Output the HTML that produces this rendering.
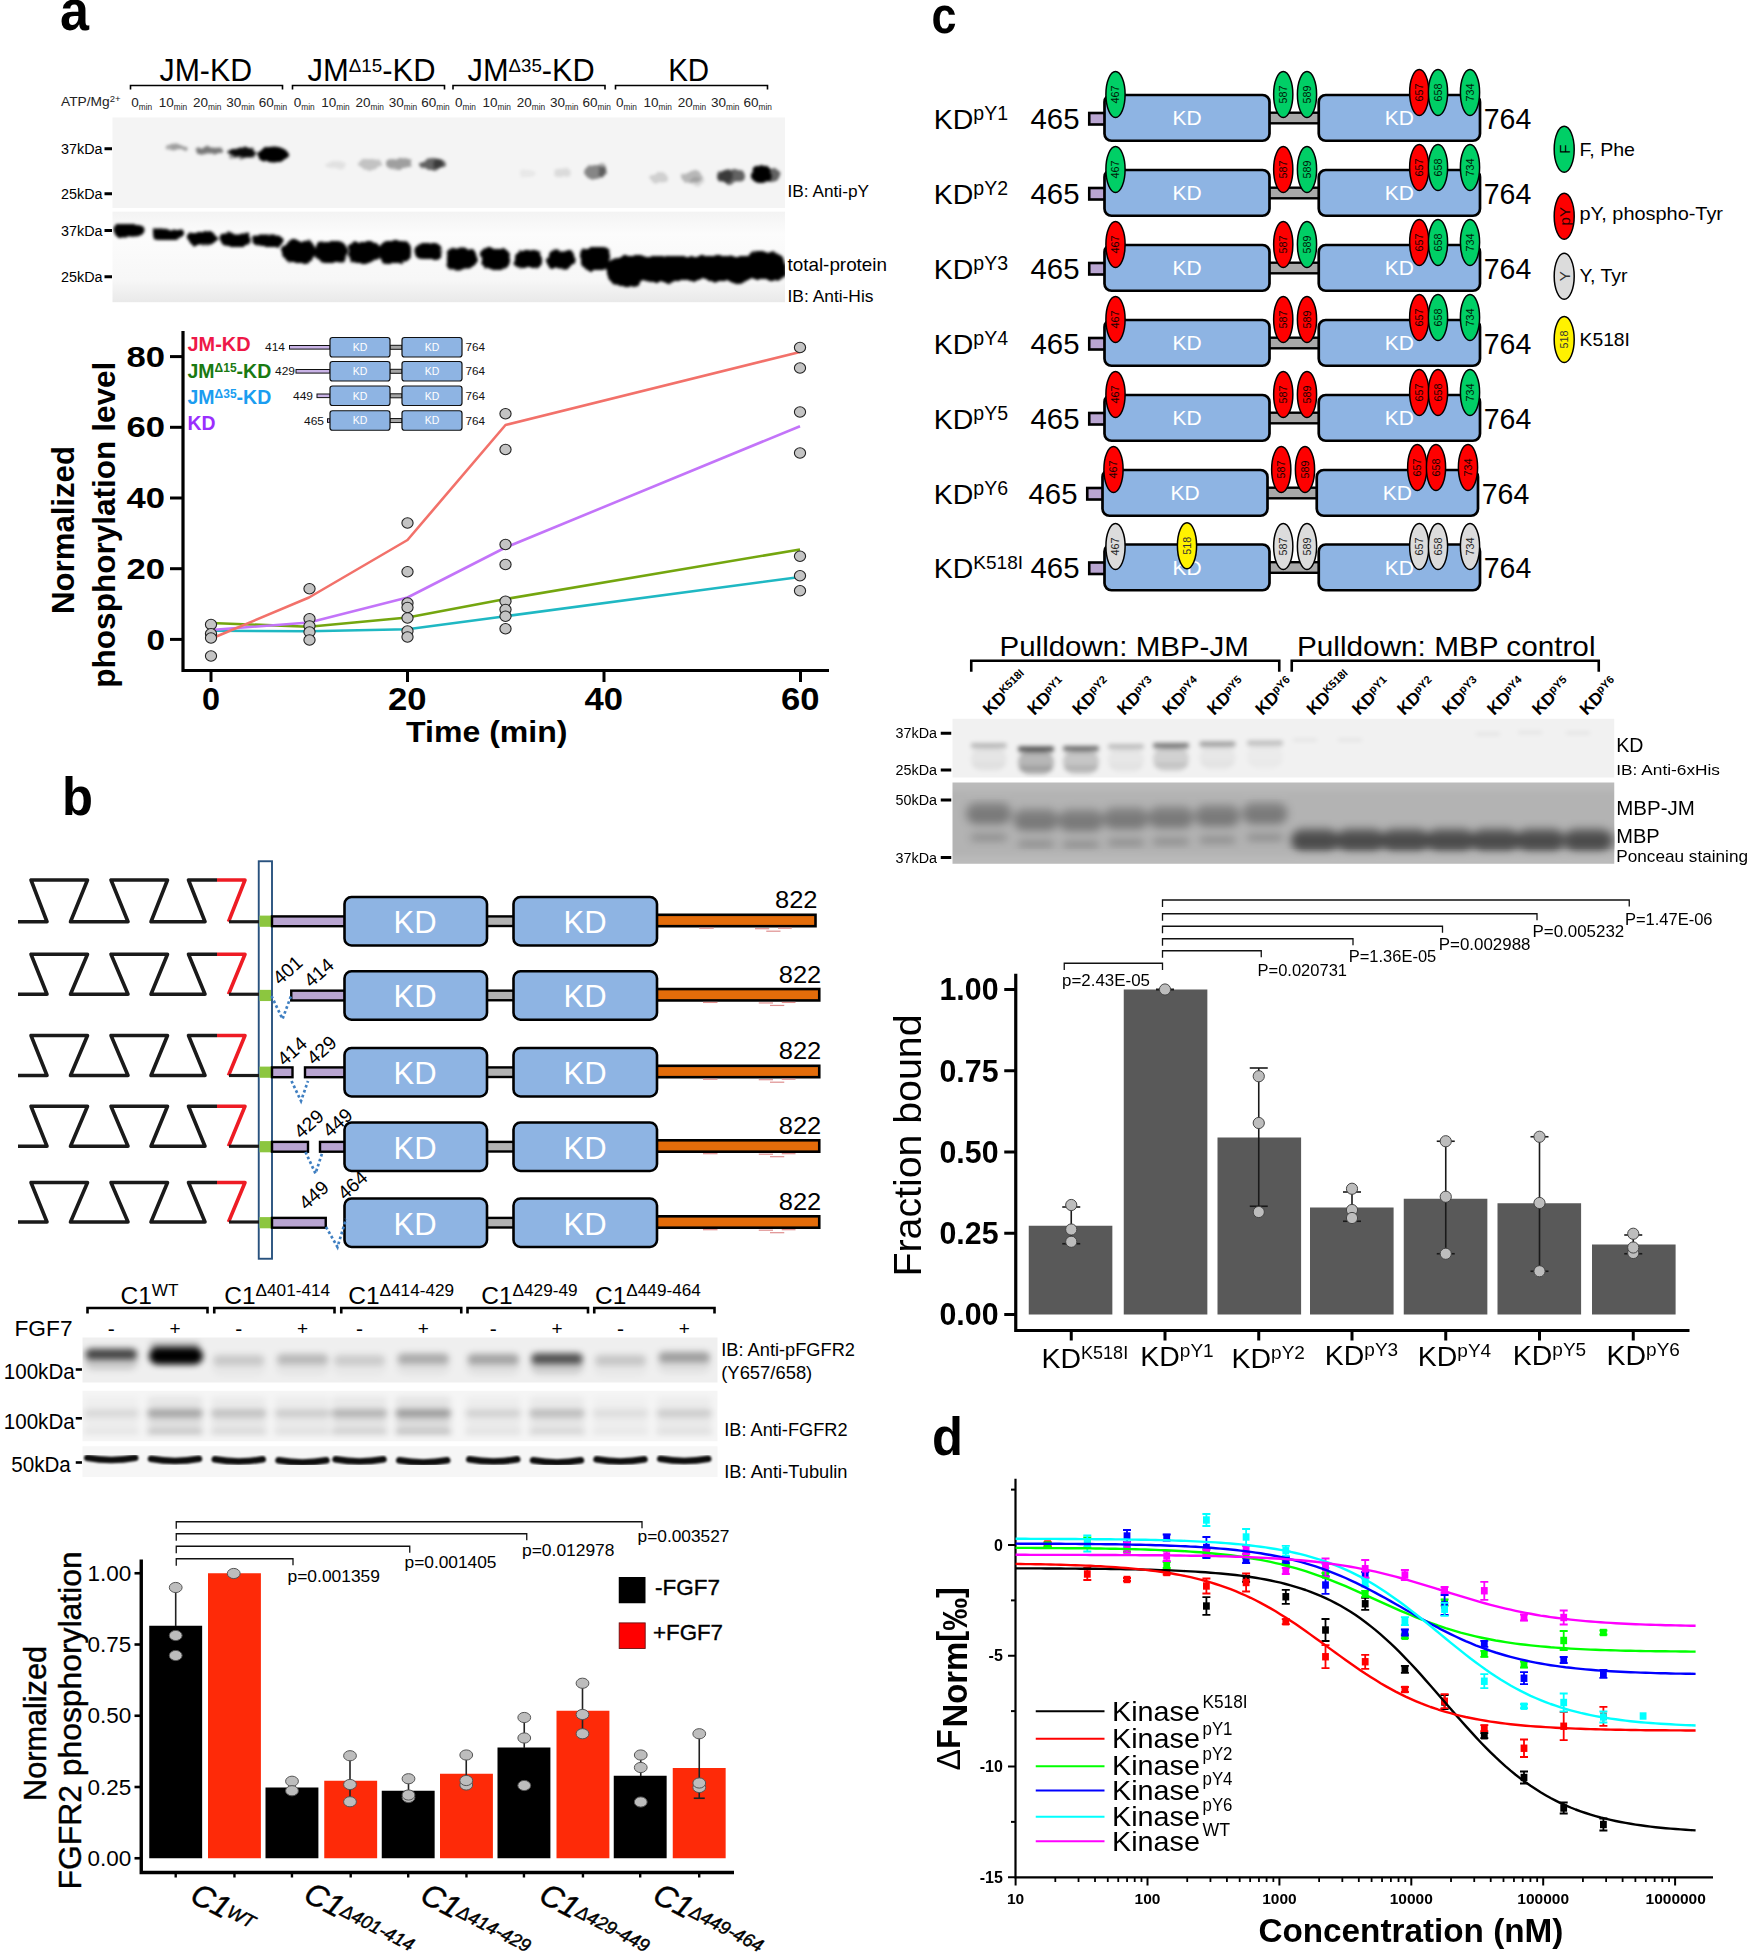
<!DOCTYPE html>
<html><head><meta charset="utf-8"><title>Figure</title>
<style>html,body{margin:0;padding:0;background:#fff}svg{display:block}text{font-family:"Liberation Sans",sans-serif}</style></head>
<body>
<svg width="1750" height="1955" viewBox="0 0 1750 1955" font-family="'Liberation Sans', sans-serif" fill="#000">
<defs>
<filter id="rough" x="-10%" y="-40%" width="120%" height="180%"><feTurbulence type="fractalNoise" baseFrequency="0.09" numOctaves="2" seed="7" result="n"/><feDisplacementMap in="SourceGraphic" in2="n" scale="7" xChannelSelector="R" yChannelSelector="G" result="d"/><feGaussianBlur in="d" stdDeviation="1.6"/></filter>
<filter id="rough2" x="-10%" y="-40%" width="120%" height="180%"><feTurbulence type="fractalNoise" baseFrequency="0.12" numOctaves="2" seed="3" result="n"/><feDisplacementMap in="SourceGraphic" in2="n" scale="6" xChannelSelector="R" yChannelSelector="G" result="d"/><feGaussianBlur in="d" stdDeviation="1.8"/></filter>
<filter id="b15" x="-20%" y="-50%" width="140%" height="200%"><feGaussianBlur stdDeviation="1.3"/></filter>
<filter id="b2" x="-20%" y="-50%" width="140%" height="200%"><feGaussianBlur stdDeviation="2"/></filter>
<filter id="b4" x="-20%" y="-60%" width="140%" height="220%"><feGaussianBlur stdDeviation="4"/></filter>
<filter id="b3" x="-20%" y="-50%" width="140%" height="200%"><feGaussianBlur stdDeviation="3"/></filter>
<linearGradient id="ga2" x1="0" y1="0" x2="0" y2="1"><stop offset="0" stop-color="#f3f3f3"/><stop offset="0.25" stop-color="#fcfcfc"/><stop offset="0.75" stop-color="#f7f7f7"/><stop offset="1" stop-color="#e9e9e9"/></linearGradient>
<clipPath id="ca2"><rect x="112.5" y="211.7" width="672.5" height="90.5"/></clipPath>
<clipPath id="cb1"><rect x="82.5" y="1337.5" width="635" height="45"/></clipPath>
<clipPath id="cb2"><rect x="82.5" y="1390.75" width="635" height="50.5"/></clipPath>
<clipPath id="cb3"><rect x="82.5" y="1446.25" width="635" height="30.75"/></clipPath>
<clipPath id="cc1"><rect x="952.5" y="718.75" width="661.75" height="58.75"/></clipPath>
<clipPath id="cc2"><rect x="952.5" y="782.5" width="661.75" height="81.25"/></clipPath>
</defs>
<rect width="1750" height="1955" fill="#fff"/>
<g id="panel-a">
<text x="60.00" y="30.00" font-size="58" font-weight="bold" textLength="29.00" lengthAdjust="spacingAndGlyphs">a</text>
<path d="M130.50 89.50V85.50H282.50V89.50" stroke="#000" stroke-width="1.6" fill="none" />
<path d="M292.50 89.50V85.50H444.50V89.50" stroke="#000" stroke-width="1.6" fill="none" />
<path d="M453.00 89.50V85.50H605.00V89.50" stroke="#000" stroke-width="1.6" fill="none" />
<path d="M615.50 89.50V85.50H767.50V89.50" stroke="#000" stroke-width="1.6" fill="none" />
<text x="159.50" y="80.50" font-size="30.5" textLength="92.50" lengthAdjust="spacingAndGlyphs">JM-KD</text>
<text x="307.50" y="80.50" font-size="30.5" textLength="128.00" lengthAdjust="spacingAndGlyphs">JM<tspan font-size="18.5" dy="-9">Δ15</tspan><tspan dy="9">-KD</tspan></text>
<text x="467.60" y="80.50" font-size="30.5" textLength="127.20" lengthAdjust="spacingAndGlyphs">JM<tspan font-size="18.5" dy="-9">Δ35</tspan><tspan dy="9">-KD</tspan></text>
<text x="668.20" y="80.50" font-size="30.5" textLength="41.00" lengthAdjust="spacingAndGlyphs">KD</text>
<text x="61.00" y="106.00" font-size="13" fill="#222" textLength="59.50" lengthAdjust="spacingAndGlyphs">ATP/Mg<tspan font-size="9" dy="-4.5">2+</tspan></text>
<text x="131.25" y="106.50" font-size="13.5" fill="#222">0<tspan font-size="8.3" dy="3">min</tspan></text>
<text x="158.75" y="106.50" font-size="13.5" fill="#222">10<tspan font-size="8.3" dy="3">min</tspan></text>
<text x="193.00" y="106.50" font-size="13.5" fill="#222">20<tspan font-size="8.3" dy="3">min</tspan></text>
<text x="226.25" y="106.50" font-size="13.5" fill="#222">30<tspan font-size="8.3" dy="3">min</tspan></text>
<text x="258.75" y="106.50" font-size="13.5" fill="#222">60<tspan font-size="8.3" dy="3">min</tspan></text>
<text x="293.75" y="106.50" font-size="13.5" fill="#222">0<tspan font-size="8.3" dy="3">min</tspan></text>
<text x="321.25" y="106.50" font-size="13.5" fill="#222">10<tspan font-size="8.3" dy="3">min</tspan></text>
<text x="355.50" y="106.50" font-size="13.5" fill="#222">20<tspan font-size="8.3" dy="3">min</tspan></text>
<text x="388.75" y="106.50" font-size="13.5" fill="#222">30<tspan font-size="8.3" dy="3">min</tspan></text>
<text x="421.25" y="106.50" font-size="13.5" fill="#222">60<tspan font-size="8.3" dy="3">min</tspan></text>
<text x="455.00" y="106.50" font-size="13.5" fill="#222">0<tspan font-size="8.3" dy="3">min</tspan></text>
<text x="482.50" y="106.50" font-size="13.5" fill="#222">10<tspan font-size="8.3" dy="3">min</tspan></text>
<text x="516.75" y="106.50" font-size="13.5" fill="#222">20<tspan font-size="8.3" dy="3">min</tspan></text>
<text x="550.00" y="106.50" font-size="13.5" fill="#222">30<tspan font-size="8.3" dy="3">min</tspan></text>
<text x="582.50" y="106.50" font-size="13.5" fill="#222">60<tspan font-size="8.3" dy="3">min</tspan></text>
<text x="616.00" y="106.50" font-size="13.5" fill="#222">0<tspan font-size="8.3" dy="3">min</tspan></text>
<text x="643.50" y="106.50" font-size="13.5" fill="#222">10<tspan font-size="8.3" dy="3">min</tspan></text>
<text x="677.75" y="106.50" font-size="13.5" fill="#222">20<tspan font-size="8.3" dy="3">min</tspan></text>
<text x="711.00" y="106.50" font-size="13.5" fill="#222">30<tspan font-size="8.3" dy="3">min</tspan></text>
<text x="743.50" y="106.50" font-size="13.5" fill="#222">60<tspan font-size="8.3" dy="3">min</tspan></text>
<rect x="112.50" y="117.50" width="672.50" height="90.50" fill="#f4f4f4" />
<g filter="url(#rough2)"><ellipse cx="176.00" cy="147.50" rx="11.00" ry="3.00" fill="#000" opacity="0.35"/>
<ellipse cx="210.00" cy="150.50" rx="13.00" ry="4.00" fill="#000" opacity="0.5"/>
<ellipse cx="242.50" cy="152.50" rx="15.00" ry="5.00" fill="#000" opacity="0.95"/>
<ellipse cx="242.00" cy="156.00" rx="14.00" ry="3.00" fill="#000" opacity="0.4"/>
<ellipse cx="274.00" cy="154.00" rx="15.00" ry="7.50" fill="#000" opacity="1"/>
<ellipse cx="274.00" cy="154.00" rx="13.00" ry="6.00" fill="#000" opacity="1"/>
<ellipse cx="268.00" cy="155.00" rx="10.00" ry="6.00" fill="#000" opacity="1"/>
<ellipse cx="336.00" cy="165.00" rx="10.00" ry="4.00" fill="#000" opacity="0.08"/>
<ellipse cx="370.00" cy="164.00" rx="12.00" ry="5.00" fill="#000" opacity="0.2"/>
<ellipse cx="400.00" cy="163.50" rx="13.00" ry="5.50" fill="#000" opacity="0.35"/>
<ellipse cx="432.50" cy="164.00" rx="13.50" ry="6.00" fill="#000" opacity="0.6"/>
<ellipse cx="438.00" cy="164.00" rx="5.00" ry="5.00" fill="#000" opacity="0.4"/>
<ellipse cx="528.00" cy="173.00" rx="8.00" ry="4.00" fill="#000" opacity="0.05"/>
<ellipse cx="563.00" cy="173.00" rx="9.00" ry="4.50" fill="#000" opacity="0.1"/>
<ellipse cx="596.00" cy="172.00" rx="11.00" ry="7.00" fill="#000" opacity="0.45"/>
<ellipse cx="602.00" cy="170.00" rx="4.00" ry="8.00" fill="#000" opacity="0.3"/>
<ellipse cx="659.00" cy="178.00" rx="10.00" ry="5.00" fill="#000" opacity="0.15"/>
<ellipse cx="692.00" cy="177.00" rx="11.00" ry="6.00" fill="#000" opacity="0.25"/>
<ellipse cx="697.00" cy="182.00" rx="7.00" ry="4.00" fill="#000" opacity="0.12"/>
<ellipse cx="731.00" cy="176.00" rx="14.00" ry="7.00" fill="#000" opacity="0.6"/>
<ellipse cx="726.00" cy="176.00" rx="7.00" ry="6.00" fill="#000" opacity="0.4"/>
<ellipse cx="762.00" cy="174.00" rx="10.00" ry="9.00" fill="#000" opacity="1"/>
<ellipse cx="760.00" cy="175.00" rx="9.00" ry="8.00" fill="#000" opacity="1"/>
<ellipse cx="772.00" cy="175.00" rx="8.00" ry="6.00" fill="#000" opacity="0.6"/>
</g><rect x="112.50" y="211.70" width="672.50" height="90.50" fill="url(#ga2)" />
<g clip-path="url(#ca2)"><g filter="url(#rough)"><rect x="113.50" y="224.00" width="31.00" height="11.00" fill="#000" rx="5" />
<rect x="118.00" y="226.50" width="24.00" height="10.00" fill="#000" rx="4" />
<rect x="152.00" y="228.50" width="31.00" height="11.00" fill="#000" rx="5" />
<rect x="156.50" y="231.00" width="24.00" height="10.00" fill="#000" rx="4" />
<rect x="187.00" y="232.00" width="31.00" height="11.00" fill="#000" rx="5" />
<rect x="191.50" y="234.50" width="24.00" height="10.00" fill="#000" rx="4" />
<rect x="219.50" y="233.50" width="31.00" height="11.00" fill="#000" rx="5" />
<rect x="224.00" y="236.00" width="24.00" height="10.00" fill="#000" rx="4" />
<rect x="252.50" y="234.50" width="31.00" height="11.00" fill="#000" rx="5" />
<rect x="257.00" y="237.00" width="24.00" height="10.00" fill="#000" rx="4" />
<rect x="283.00" y="241.00" width="32.00" height="22.00" fill="#000" rx="9" />
<rect x="315.00" y="241.00" width="32.00" height="22.00" fill="#000" rx="9" />
<rect x="348.00" y="241.00" width="32.00" height="22.00" fill="#000" rx="9" />
<rect x="379.00" y="241.00" width="32.00" height="22.00" fill="#000" rx="9" />
<rect x="415.50" y="243.00" width="27.00" height="16.00" fill="#000" rx="7" />
<rect x="446.00" y="248.50" width="30.00" height="21.00" fill="#000" rx="8" />
<rect x="480.00" y="249.00" width="30.00" height="20.00" fill="#000" rx="8" />
<rect x="514.00" y="250.00" width="28.00" height="18.00" fill="#000" rx="8" />
<rect x="546.50" y="249.50" width="29.00" height="19.00" fill="#000" rx="8" />
<rect x="580.00" y="248.00" width="30.00" height="22.00" fill="#000" rx="8" />
<rect x="608.00" y="256.00" width="178.00" height="24.00" fill="#000" rx="11" />
<rect x="607.00" y="258.00" width="36.00" height="28.00" fill="#000" rx="11" />
<rect x="640.00" y="257.00" width="40.00" height="26.00" fill="#000" rx="11" />
<rect x="746.00" y="253.00" width="38.00" height="26.00" fill="#000" rx="11" />
<rect x="708.00" y="256.00" width="40.00" height="26.00" fill="#000" rx="11" />
</g></g><text x="61.00" y="153.75" font-size="14" textLength="41.50" lengthAdjust="spacingAndGlyphs">37kDa</text>
<rect x="104.50" y="147.25" width="7.50" height="3.00" fill="#000" />
<text x="61.00" y="198.75" font-size="14" textLength="41.50" lengthAdjust="spacingAndGlyphs">25kDa</text>
<rect x="104.50" y="192.25" width="7.50" height="3.00" fill="#000" />
<text x="61.00" y="235.50" font-size="14" textLength="41.50" lengthAdjust="spacingAndGlyphs">37kDa</text>
<rect x="104.50" y="229.00" width="7.50" height="3.00" fill="#000" />
<text x="61.00" y="281.75" font-size="14" textLength="41.50" lengthAdjust="spacingAndGlyphs">25kDa</text>
<rect x="104.50" y="275.25" width="7.50" height="3.00" fill="#000" />
<text x="787.50" y="196.50" font-size="17" textLength="81.50" lengthAdjust="spacingAndGlyphs">IB: Anti-pY</text>
<text x="787.50" y="271.00" font-size="18.5" textLength="99.50" lengthAdjust="spacingAndGlyphs">total-protein</text>
<text x="787.50" y="302.00" font-size="17" textLength="86.00" lengthAdjust="spacingAndGlyphs">IB: Anti-His</text>
<path d="M183 331V670.5H829" stroke="#000" stroke-width="3.2" fill="none" />
<line x1="170.00" y1="639.40" x2="183.00" y2="639.40" stroke="#000" stroke-width="3" />
<line x1="170.00" y1="568.70" x2="183.00" y2="568.70" stroke="#000" stroke-width="3" />
<line x1="170.00" y1="498.00" x2="183.00" y2="498.00" stroke="#000" stroke-width="3" />
<line x1="170.00" y1="427.30" x2="183.00" y2="427.30" stroke="#000" stroke-width="3" />
<line x1="170.00" y1="356.60" x2="183.00" y2="356.60" stroke="#000" stroke-width="3" />
<line x1="211.00" y1="670.50" x2="211.00" y2="682.00" stroke="#000" stroke-width="3" />
<line x1="407.50" y1="670.50" x2="407.50" y2="682.00" stroke="#000" stroke-width="3" />
<line x1="604.00" y1="670.50" x2="604.00" y2="682.00" stroke="#000" stroke-width="3" />
<line x1="800.50" y1="670.50" x2="800.50" y2="682.00" stroke="#000" stroke-width="3" />
<text x="126.50" y="366.60" font-size="30" font-weight="bold" textLength="38.50" lengthAdjust="spacingAndGlyphs">80</text>
<text x="126.50" y="437.30" font-size="30" font-weight="bold" textLength="38.50" lengthAdjust="spacingAndGlyphs">60</text>
<text x="126.50" y="508.00" font-size="30" font-weight="bold" textLength="38.50" lengthAdjust="spacingAndGlyphs">40</text>
<text x="126.50" y="578.70" font-size="30" font-weight="bold" textLength="38.50" lengthAdjust="spacingAndGlyphs">20</text>
<text x="146.50" y="649.70" font-size="30" font-weight="bold" textLength="18.50" lengthAdjust="spacingAndGlyphs">0</text>
<text x="202.00" y="710.00" font-size="31" font-weight="bold" textLength="18.00" lengthAdjust="spacingAndGlyphs">0</text>
<text x="388.00" y="710.00" font-size="31" font-weight="bold" textLength="38.50" lengthAdjust="spacingAndGlyphs">20</text>
<text x="584.50" y="710.00" font-size="31" font-weight="bold" textLength="38.50" lengthAdjust="spacingAndGlyphs">40</text>
<text x="781.00" y="710.00" font-size="31" font-weight="bold" textLength="38.50" lengthAdjust="spacingAndGlyphs">60</text>
<text x="406.00" y="742.00" font-size="30" font-weight="bold" textLength="161.50" lengthAdjust="spacingAndGlyphs">Time (min)</text>
<text transform="translate(74.30 614.00) rotate(-90)" font-size="31" font-weight="bold" textLength="168.00" lengthAdjust="spacingAndGlyphs">Normalized</text>
<text transform="translate(115.00 687.70) rotate(-90)" font-size="31" font-weight="bold" textLength="326.00" lengthAdjust="spacingAndGlyphs">phosphorylation level</text>
<path d="M211.0 623.0L309.0 626.8L407.5 617.5L505.5 599.0L800.0 549.5" stroke="#74a60f" stroke-width="2.6" fill="none" stroke-linejoin="round"/>
<path d="M211.0 630.8L309.0 631.2L407.5 629.2L505.5 616.2L800.0 577.0" stroke="#1fb8c3" stroke-width="2.6" fill="none" stroke-linejoin="round"/>
<path d="M211.0 630.0L309.0 622.5L407.5 597.5L505.5 547.5L800.0 426.2" stroke="#c374f9" stroke-width="2.6" fill="none" stroke-linejoin="round"/>
<path d="M211.0 638.8L309.0 597.5L407.5 540.0L505.5 425.0L800.0 352.0" stroke="#f2716a" stroke-width="2.6" fill="none" stroke-linejoin="round"/>
<ellipse cx="211.00" cy="624.50" rx="5.60" ry="5.20" fill="#c4c4c4" stroke="#222" stroke-width="1.1" />
<ellipse cx="211.00" cy="633.75" rx="5.60" ry="5.20" fill="#c4c4c4" stroke="#222" stroke-width="1.1" />
<ellipse cx="211.00" cy="638.00" rx="5.60" ry="5.20" fill="#c4c4c4" stroke="#222" stroke-width="1.1" />
<ellipse cx="211.00" cy="656.00" rx="5.60" ry="5.20" fill="#c4c4c4" stroke="#222" stroke-width="1.1" />
<ellipse cx="309.50" cy="588.75" rx="5.60" ry="5.20" fill="#c4c4c4" stroke="#222" stroke-width="1.1" />
<ellipse cx="309.50" cy="618.75" rx="5.60" ry="5.20" fill="#c4c4c4" stroke="#222" stroke-width="1.1" />
<ellipse cx="309.50" cy="626.00" rx="5.60" ry="5.20" fill="#c4c4c4" stroke="#222" stroke-width="1.1" />
<ellipse cx="309.50" cy="632.00" rx="5.60" ry="5.20" fill="#c4c4c4" stroke="#222" stroke-width="1.1" />
<ellipse cx="309.50" cy="640.00" rx="5.60" ry="5.20" fill="#c4c4c4" stroke="#222" stroke-width="1.1" />
<ellipse cx="407.50" cy="523.00" rx="5.60" ry="5.20" fill="#c4c4c4" stroke="#222" stroke-width="1.1" />
<ellipse cx="407.50" cy="571.75" rx="5.60" ry="5.20" fill="#c4c4c4" stroke="#222" stroke-width="1.1" />
<ellipse cx="407.50" cy="603.00" rx="5.60" ry="5.20" fill="#c4c4c4" stroke="#222" stroke-width="1.1" />
<ellipse cx="407.50" cy="607.50" rx="5.60" ry="5.20" fill="#c4c4c4" stroke="#222" stroke-width="1.1" />
<ellipse cx="407.50" cy="618.00" rx="5.60" ry="5.20" fill="#c4c4c4" stroke="#222" stroke-width="1.1" />
<ellipse cx="407.50" cy="631.00" rx="5.60" ry="5.20" fill="#c4c4c4" stroke="#222" stroke-width="1.1" />
<ellipse cx="407.50" cy="637.00" rx="5.60" ry="5.20" fill="#c4c4c4" stroke="#222" stroke-width="1.1" />
<ellipse cx="505.50" cy="413.75" rx="5.60" ry="5.20" fill="#c4c4c4" stroke="#222" stroke-width="1.1" />
<ellipse cx="505.50" cy="449.50" rx="5.60" ry="5.20" fill="#c4c4c4" stroke="#222" stroke-width="1.1" />
<ellipse cx="505.50" cy="544.50" rx="5.60" ry="5.20" fill="#c4c4c4" stroke="#222" stroke-width="1.1" />
<ellipse cx="505.50" cy="564.50" rx="5.60" ry="5.20" fill="#c4c4c4" stroke="#222" stroke-width="1.1" />
<ellipse cx="505.50" cy="601.25" rx="5.60" ry="5.20" fill="#c4c4c4" stroke="#222" stroke-width="1.1" />
<ellipse cx="505.50" cy="609.50" rx="5.60" ry="5.20" fill="#c4c4c4" stroke="#222" stroke-width="1.1" />
<ellipse cx="505.50" cy="616.25" rx="5.60" ry="5.20" fill="#c4c4c4" stroke="#222" stroke-width="1.1" />
<ellipse cx="505.50" cy="628.75" rx="5.60" ry="5.20" fill="#c4c4c4" stroke="#222" stroke-width="1.1" />
<ellipse cx="800.00" cy="347.50" rx="5.60" ry="5.20" fill="#c4c4c4" stroke="#222" stroke-width="1.1" />
<ellipse cx="800.00" cy="368.00" rx="5.60" ry="5.20" fill="#c4c4c4" stroke="#222" stroke-width="1.1" />
<ellipse cx="800.00" cy="412.00" rx="5.60" ry="5.20" fill="#c4c4c4" stroke="#222" stroke-width="1.1" />
<ellipse cx="800.00" cy="453.00" rx="5.60" ry="5.20" fill="#c4c4c4" stroke="#222" stroke-width="1.1" />
<ellipse cx="800.00" cy="556.25" rx="5.60" ry="5.20" fill="#c4c4c4" stroke="#222" stroke-width="1.1" />
<ellipse cx="800.00" cy="575.75" rx="5.60" ry="5.20" fill="#c4c4c4" stroke="#222" stroke-width="1.1" />
<ellipse cx="800.00" cy="590.75" rx="5.60" ry="5.20" fill="#c4c4c4" stroke="#222" stroke-width="1.1" />
<text x="187.50" y="351.00" font-size="19.5" font-weight="bold" fill="#ee1848" textLength="63.00" lengthAdjust="spacingAndGlyphs">JM-KD</text>
<text x="187.50" y="377.50" font-size="19.5" font-weight="bold" fill="#1a7a12">JM<tspan font-size="12" dy="-6">Δ15</tspan><tspan dy="6">-KD</tspan></text>
<text x="187.50" y="403.75" font-size="19.5" font-weight="bold" fill="#1b9df0">JM<tspan font-size="12" dy="-6">Δ35</tspan><tspan dy="6">-KD</tspan></text>
<text x="187.50" y="430.00" font-size="19.5" font-weight="bold" fill="#9a2efe" textLength="28.00" lengthAdjust="spacingAndGlyphs">KD</text>
<rect x="289.50" y="345.50" width="40.50" height="3.60" fill="#c9b3e6" stroke="#111" stroke-width="1" />
<rect x="390.00" y="345.30" width="12.00" height="4.00" fill="#a6a6a6" stroke="#111" stroke-width="1" />
<rect x="330.00" y="337.50" width="60.00" height="19.50" fill="#8eb4e3" stroke="#111" stroke-width="1.2" rx="2.5" />
<rect x="402.00" y="337.50" width="60.00" height="19.50" fill="#8eb4e3" stroke="#111" stroke-width="1.2" rx="2.5" />
<text x="360.00" y="351.10" font-size="10.5" fill="#fff" text-anchor="middle">KD</text>
<text x="432.00" y="351.10" font-size="10.5" fill="#fff" text-anchor="middle">KD</text>
<text x="265.00" y="351.30" font-size="11.5" fill="#111" textLength="20.00" lengthAdjust="spacingAndGlyphs">414</text>
<text x="465.50" y="351.30" font-size="11.5" fill="#111" textLength="19.50" lengthAdjust="spacingAndGlyphs">764</text>
<rect x="296.00" y="369.50" width="34.00" height="3.60" fill="#c9b3e6" stroke="#111" stroke-width="1" />
<rect x="390.00" y="369.30" width="12.00" height="4.00" fill="#a6a6a6" stroke="#111" stroke-width="1" />
<rect x="330.00" y="361.50" width="60.00" height="19.50" fill="#8eb4e3" stroke="#111" stroke-width="1.2" rx="2.5" />
<rect x="402.00" y="361.50" width="60.00" height="19.50" fill="#8eb4e3" stroke="#111" stroke-width="1.2" rx="2.5" />
<text x="360.00" y="375.10" font-size="10.5" fill="#fff" text-anchor="middle">KD</text>
<text x="432.00" y="375.10" font-size="10.5" fill="#fff" text-anchor="middle">KD</text>
<text x="275.00" y="375.30" font-size="11.5" fill="#111" textLength="20.00" lengthAdjust="spacingAndGlyphs">429</text>
<text x="465.50" y="375.30" font-size="11.5" fill="#111" textLength="19.50" lengthAdjust="spacingAndGlyphs">764</text>
<rect x="317.00" y="394.00" width="13.00" height="3.60" fill="#c9b3e6" stroke="#111" stroke-width="1" />
<rect x="390.00" y="393.80" width="12.00" height="4.00" fill="#a6a6a6" stroke="#111" stroke-width="1" />
<rect x="330.00" y="386.00" width="60.00" height="19.50" fill="#8eb4e3" stroke="#111" stroke-width="1.2" rx="2.5" />
<rect x="402.00" y="386.00" width="60.00" height="19.50" fill="#8eb4e3" stroke="#111" stroke-width="1.2" rx="2.5" />
<text x="360.00" y="399.60" font-size="10.5" fill="#fff" text-anchor="middle">KD</text>
<text x="432.00" y="399.60" font-size="10.5" fill="#fff" text-anchor="middle">KD</text>
<text x="293.00" y="399.80" font-size="11.5" fill="#111" textLength="20.00" lengthAdjust="spacingAndGlyphs">449</text>
<text x="465.50" y="399.80" font-size="11.5" fill="#111" textLength="19.50" lengthAdjust="spacingAndGlyphs">764</text>
<rect x="327.50" y="418.75" width="2.50" height="3.60" fill="#c9b3e6" stroke="#111" stroke-width="1" />
<rect x="390.00" y="418.55" width="12.00" height="4.00" fill="#a6a6a6" stroke="#111" stroke-width="1" />
<rect x="330.00" y="410.75" width="60.00" height="19.50" fill="#8eb4e3" stroke="#111" stroke-width="1.2" rx="2.5" />
<rect x="402.00" y="410.75" width="60.00" height="19.50" fill="#8eb4e3" stroke="#111" stroke-width="1.2" rx="2.5" />
<text x="360.00" y="424.35" font-size="10.5" fill="#fff" text-anchor="middle">KD</text>
<text x="432.00" y="424.35" font-size="10.5" fill="#fff" text-anchor="middle">KD</text>
<text x="304.00" y="424.55" font-size="11.5" fill="#111" textLength="20.00" lengthAdjust="spacingAndGlyphs">465</text>
<text x="465.50" y="424.55" font-size="11.5" fill="#111" textLength="19.50" lengthAdjust="spacingAndGlyphs">764</text>
</g>
<g id="panel-b">
<text x="62.00" y="814.50" font-size="54" font-weight="bold" textLength="31.00" lengthAdjust="spacingAndGlyphs">b</text>
<rect x="258.75" y="861.25" width="13.25" height="397.50" fill="#fff" stroke="#28527e" stroke-width="1.9" />
<path d="M18 921.75H47L31 880H87.5L70.5 921.75H128L111 880H167.5L151 921.75H205L188.5 880H217" stroke="#1a1a1a" stroke-width="3.6" fill="none" stroke-linejoin="round"/>
<path d="M217 880H245L228.5 921.75" stroke="#ee1c24" stroke-width="3.6" fill="none" stroke-linejoin="round"/>
<path d="M229 921.75H259" stroke="#1a1a1a" stroke-width="3.2" fill="none" />
<rect x="259.60" y="915.60" width="11.40" height="11.20" fill="#8cc63f" />
<rect x="656.00" y="914.80" width="159.50" height="11.40" fill="#e36c0a" stroke="#000" stroke-width="2.6" />
<rect x="486.00" y="916.40" width="29.00" height="9.60" fill="#b2b2b2" stroke="#000" stroke-width="2.4" />
<rect x="272.00" y="916.40" width="73.00" height="9.80" fill="#b9a5d1" stroke="#000" stroke-width="2.4" />
<rect x="344.50" y="897.00" width="142.50" height="48.50" fill="#8eb4e3" stroke="#000" stroke-width="2.6" rx="7" />
<rect x="513.50" y="897.00" width="143.50" height="48.50" fill="#8eb4e3" stroke="#000" stroke-width="2.6" rx="7" />
<text x="415.00" y="933.00" font-size="31" fill="#fff" text-anchor="middle">KD</text>
<text x="585.00" y="933.00" font-size="31" fill="#fff" text-anchor="middle">KD</text>
<text x="775.00" y="908.30" font-size="24" textLength="42.50" lengthAdjust="spacingAndGlyphs">822</text>
<line x1="699.25" y1="928.20" x2="713.75" y2="928.20" stroke="#df8f8f" stroke-width="1.2" />
<line x1="755.00" y1="928.70" x2="769.25" y2="928.70" stroke="#df8f8f" stroke-width="1.2" />
<line x1="766.25" y1="931.20" x2="780.50" y2="931.20" stroke="#df8f8f" stroke-width="1.2" />
<line x1="778.00" y1="928.20" x2="791.75" y2="928.20" stroke="#df8f8f" stroke-width="1.2" />
<path d="M18 994.25H47L31 954.25H87.5L70.5 994.25H128L111 954.25H167.5L151 994.25H205L188.5 954.25H217" stroke="#1a1a1a" stroke-width="3.6" fill="none" stroke-linejoin="round"/>
<path d="M217 954.25H245L228.5 994.25" stroke="#ee1c24" stroke-width="3.6" fill="none" stroke-linejoin="round"/>
<path d="M229 994.25H259" stroke="#1a1a1a" stroke-width="3.2" fill="none" />
<rect x="259.60" y="989.85" width="11.40" height="11.20" fill="#8cc63f" />
<rect x="656.00" y="989.05" width="163.25" height="11.40" fill="#e36c0a" stroke="#000" stroke-width="2.6" />
<rect x="486.00" y="990.65" width="29.00" height="9.60" fill="#b2b2b2" stroke="#000" stroke-width="2.4" />
<rect x="291.25" y="990.65" width="53.75" height="9.80" fill="#b9a5d1" stroke="#000" stroke-width="2.4" />
<rect x="344.50" y="971.25" width="142.50" height="48.50" fill="#8eb4e3" stroke="#000" stroke-width="2.6" rx="7" />
<rect x="513.50" y="971.25" width="143.50" height="48.50" fill="#8eb4e3" stroke="#000" stroke-width="2.6" rx="7" />
<text x="415.00" y="1007.25" font-size="31" fill="#fff" text-anchor="middle">KD</text>
<text x="585.00" y="1007.25" font-size="31" fill="#fff" text-anchor="middle">KD</text>
<text x="778.75" y="982.55" font-size="24" textLength="42.50" lengthAdjust="spacingAndGlyphs">822</text>
<line x1="703.00" y1="1002.45" x2="717.50" y2="1002.45" stroke="#df8f8f" stroke-width="1.2" />
<line x1="758.75" y1="1002.95" x2="773.00" y2="1002.95" stroke="#df8f8f" stroke-width="1.2" />
<line x1="770.00" y1="1005.45" x2="784.25" y2="1005.45" stroke="#df8f8f" stroke-width="1.2" />
<line x1="781.75" y1="1002.45" x2="795.50" y2="1002.45" stroke="#df8f8f" stroke-width="1.2" />
<path d="M18 1075.5H47L31 1035.5H87.5L70.5 1075.5H128L111 1035.5H167.5L151 1075.5H205L188.5 1035.5H217" stroke="#1a1a1a" stroke-width="3.6" fill="none" stroke-linejoin="round"/>
<path d="M217 1035.5H245L228.5 1075.5" stroke="#ee1c24" stroke-width="3.6" fill="none" stroke-linejoin="round"/>
<path d="M229 1075.5H259" stroke="#1a1a1a" stroke-width="3.2" fill="none" />
<rect x="259.60" y="1066.60" width="11.40" height="11.20" fill="#8cc63f" />
<rect x="656.00" y="1065.80" width="163.25" height="11.40" fill="#e36c0a" stroke="#000" stroke-width="2.6" />
<rect x="486.00" y="1067.40" width="29.00" height="9.60" fill="#b2b2b2" stroke="#000" stroke-width="2.4" />
<rect x="272.00" y="1067.40" width="20.50" height="9.80" fill="#b9a5d1" stroke="#000" stroke-width="2.4" />
<rect x="305.00" y="1067.40" width="40.00" height="9.80" fill="#b9a5d1" stroke="#000" stroke-width="2.4" />
<rect x="344.50" y="1048.00" width="142.50" height="48.50" fill="#8eb4e3" stroke="#000" stroke-width="2.6" rx="7" />
<rect x="513.50" y="1048.00" width="143.50" height="48.50" fill="#8eb4e3" stroke="#000" stroke-width="2.6" rx="7" />
<text x="415.00" y="1084.00" font-size="31" fill="#fff" text-anchor="middle">KD</text>
<text x="585.00" y="1084.00" font-size="31" fill="#fff" text-anchor="middle">KD</text>
<text x="778.75" y="1059.30" font-size="24" textLength="42.50" lengthAdjust="spacingAndGlyphs">822</text>
<line x1="703.00" y1="1079.20" x2="717.50" y2="1079.20" stroke="#df8f8f" stroke-width="1.2" />
<line x1="758.75" y1="1079.70" x2="773.00" y2="1079.70" stroke="#df8f8f" stroke-width="1.2" />
<line x1="770.00" y1="1082.20" x2="784.25" y2="1082.20" stroke="#df8f8f" stroke-width="1.2" />
<line x1="781.75" y1="1079.20" x2="795.50" y2="1079.20" stroke="#df8f8f" stroke-width="1.2" />
<path d="M18 1146.25H47L31 1106.25H87.5L70.5 1146.25H128L111 1106.25H167.5L151 1146.25H205L188.5 1106.25H217" stroke="#1a1a1a" stroke-width="3.6" fill="none" stroke-linejoin="round"/>
<path d="M217 1106.25H245L228.5 1146.25" stroke="#ee1c24" stroke-width="3.6" fill="none" stroke-linejoin="round"/>
<path d="M229 1146.25H259" stroke="#1a1a1a" stroke-width="3.2" fill="none" />
<rect x="259.60" y="1141.10" width="11.40" height="11.20" fill="#8cc63f" />
<rect x="656.00" y="1140.30" width="163.25" height="11.40" fill="#e36c0a" stroke="#000" stroke-width="2.6" />
<rect x="486.00" y="1141.90" width="29.00" height="9.60" fill="#b2b2b2" stroke="#000" stroke-width="2.4" />
<rect x="272.00" y="1141.90" width="36.00" height="9.80" fill="#b9a5d1" stroke="#000" stroke-width="2.4" />
<rect x="320.00" y="1141.90" width="25.00" height="9.80" fill="#b9a5d1" stroke="#000" stroke-width="2.4" />
<rect x="344.50" y="1122.50" width="142.50" height="48.50" fill="#8eb4e3" stroke="#000" stroke-width="2.6" rx="7" />
<rect x="513.50" y="1122.50" width="143.50" height="48.50" fill="#8eb4e3" stroke="#000" stroke-width="2.6" rx="7" />
<text x="415.00" y="1158.50" font-size="31" fill="#fff" text-anchor="middle">KD</text>
<text x="585.00" y="1158.50" font-size="31" fill="#fff" text-anchor="middle">KD</text>
<text x="778.75" y="1133.80" font-size="24" textLength="42.50" lengthAdjust="spacingAndGlyphs">822</text>
<line x1="703.00" y1="1153.70" x2="717.50" y2="1153.70" stroke="#df8f8f" stroke-width="1.2" />
<line x1="758.75" y1="1154.20" x2="773.00" y2="1154.20" stroke="#df8f8f" stroke-width="1.2" />
<line x1="770.00" y1="1156.70" x2="784.25" y2="1156.70" stroke="#df8f8f" stroke-width="1.2" />
<line x1="781.75" y1="1153.70" x2="795.50" y2="1153.70" stroke="#df8f8f" stroke-width="1.2" />
<path d="M18 1222H47L31 1182.5H87.5L70.5 1222H128L111 1182.5H167.5L151 1222H205L188.5 1182.5H217" stroke="#1a1a1a" stroke-width="3.6" fill="none" stroke-linejoin="round"/>
<path d="M217 1182.5H245L228.5 1222" stroke="#ee1c24" stroke-width="3.6" fill="none" stroke-linejoin="round"/>
<path d="M229 1222H259" stroke="#1a1a1a" stroke-width="3.2" fill="none" />
<rect x="259.60" y="1217.10" width="11.40" height="11.20" fill="#8cc63f" />
<rect x="656.00" y="1216.30" width="163.25" height="11.40" fill="#e36c0a" stroke="#000" stroke-width="2.6" />
<rect x="486.00" y="1217.90" width="29.00" height="9.60" fill="#b2b2b2" stroke="#000" stroke-width="2.4" />
<rect x="272.00" y="1217.90" width="53.75" height="9.80" fill="#b9a5d1" stroke="#000" stroke-width="2.4" />
<rect x="344.50" y="1198.50" width="142.50" height="48.50" fill="#8eb4e3" stroke="#000" stroke-width="2.6" rx="7" />
<rect x="513.50" y="1198.50" width="143.50" height="48.50" fill="#8eb4e3" stroke="#000" stroke-width="2.6" rx="7" />
<text x="415.00" y="1234.50" font-size="31" fill="#fff" text-anchor="middle">KD</text>
<text x="585.00" y="1234.50" font-size="31" fill="#fff" text-anchor="middle">KD</text>
<text x="778.75" y="1209.80" font-size="24" textLength="42.50" lengthAdjust="spacingAndGlyphs">822</text>
<line x1="703.00" y1="1229.70" x2="717.50" y2="1229.70" stroke="#df8f8f" stroke-width="1.2" />
<line x1="758.75" y1="1230.20" x2="773.00" y2="1230.20" stroke="#df8f8f" stroke-width="1.2" />
<line x1="770.00" y1="1232.70" x2="784.25" y2="1232.70" stroke="#df8f8f" stroke-width="1.2" />
<line x1="781.75" y1="1229.70" x2="795.50" y2="1229.70" stroke="#df8f8f" stroke-width="1.2" />
<path d="M271.5 996L282.5 1019L291 996" stroke="#3f7fc1" stroke-width="2.7" fill="none" stroke-dasharray="2.7 2.5"/>
<path d="M291.5 1081L301 1101L308 1081" stroke="#3f7fc1" stroke-width="2.7" fill="none" stroke-dasharray="2.7 2.5"/>
<path d="M305.5 1152L315.5 1173.5L322.5 1152" stroke="#3f7fc1" stroke-width="2.7" fill="none" stroke-dasharray="2.7 2.5"/>
<path d="M326 1227L337.5 1247L346 1219" stroke="#3f7fc1" stroke-width="2.7" fill="none" stroke-dasharray="2.7 2.5"/>
<text transform="translate(287.5 970) rotate(-42)" font-size="19.3" text-anchor="middle" y="6.8">401</text>
<text transform="translate(318.75 972.5) rotate(-42)" font-size="19.3" text-anchor="middle" y="6.8">414</text>
<text transform="translate(292 1051) rotate(-42)" font-size="19.3" text-anchor="middle" y="6.8">414</text>
<text transform="translate(321.5 1050) rotate(-42)" font-size="19.3" text-anchor="middle" y="6.8">429</text>
<text transform="translate(308.75 1123.75) rotate(-42)" font-size="19.3" text-anchor="middle" y="6.8">429</text>
<text transform="translate(337.5 1122.5) rotate(-42)" font-size="19.3" text-anchor="middle" y="6.8">449</text>
<text transform="translate(313.75 1195) rotate(-42)" font-size="19.3" text-anchor="middle" y="6.8">449</text>
<text transform="translate(352.5 1185) rotate(-42)" font-size="19.3" text-anchor="middle" y="6.8">464</text>
<path d="M87.50 1313.50V1308.00H207.50V1313.50" stroke="#000" stroke-width="2.6" fill="none" />
<path d="M214.25 1313.50V1308.00H334.50V1313.50" stroke="#000" stroke-width="2.6" fill="none" />
<path d="M341.25 1313.50V1308.00H461.25V1313.50" stroke="#000" stroke-width="2.6" fill="none" />
<path d="M467.50 1313.50V1308.00H588.00V1313.50" stroke="#000" stroke-width="2.6" fill="none" />
<path d="M594.25 1313.50V1308.00H714.50V1313.50" stroke="#000" stroke-width="2.6" fill="none" />
<text x="120.50" y="1303.75" font-size="24.5">C1<tspan font-size="17.2" dy="-7.5">WT</tspan></text>
<text x="224.25" y="1303.75" font-size="24.5">C1<tspan font-size="17.2" dy="-7.5">Δ401-414</tspan></text>
<text x="348.25" y="1303.75" font-size="24.5">C1<tspan font-size="17.2" dy="-7.5">Δ414-429</tspan></text>
<text x="481.25" y="1303.75" font-size="24.5">C1<tspan font-size="17.2" dy="-7.5">Δ429-49</tspan></text>
<text x="595.00" y="1303.75" font-size="24.5">C1<tspan font-size="17.2" dy="-7.5">Δ449-464</tspan></text>
<text x="14.50" y="1335.50" font-size="22.7" textLength="58.00" lengthAdjust="spacingAndGlyphs">FGF7</text>
<text x="111.25" y="1335.60" font-size="21" text-anchor="middle">-</text>
<text x="175.00" y="1334.50" font-size="19" text-anchor="middle">+</text>
<text x="238.75" y="1335.60" font-size="21" text-anchor="middle">-</text>
<text x="302.50" y="1334.50" font-size="19" text-anchor="middle">+</text>
<text x="359.50" y="1335.60" font-size="21" text-anchor="middle">-</text>
<text x="423.25" y="1334.50" font-size="19" text-anchor="middle">+</text>
<text x="493.25" y="1335.60" font-size="21" text-anchor="middle">-</text>
<text x="557.00" y="1334.50" font-size="19" text-anchor="middle">+</text>
<text x="620.50" y="1335.60" font-size="21" text-anchor="middle">-</text>
<text x="684.25" y="1334.50" font-size="19" text-anchor="middle">+</text>
<rect x="82.50" y="1337.50" width="635.00" height="45.00" fill="#efefef" />
<rect x="82.50" y="1390.75" width="635.00" height="50.50" fill="#f5f5f5" />
<rect x="82.50" y="1446.25" width="635.00" height="30.75" fill="#f6f6f6" />
<g clip-path="url(#cb1)"><g filter="url(#b3)"><rect x="85.25" y="1348.50" width="52.00" height="11.00" fill="#000" rx="5.5" opacity="0.68"/>
<rect x="84.25" y="1352.00" width="54.00" height="18.00" fill="#000" rx="9.0" opacity="0.1496"/>
<rect x="149.00" y="1347.50" width="54.00" height="17.00" fill="#000" rx="8.5" opacity="1"/>
<rect x="151.00" y="1349.00" width="50.00" height="14.00" fill="#000" rx="7.0" opacity="1"/>
<rect x="150.00" y="1342.00" width="50.00" height="8.00" fill="#000" rx="4.0" opacity="0.25"/>
<rect x="212.75" y="1354.50" width="52.00" height="11.00" fill="#000" rx="5.5" opacity="0.14"/>
<rect x="211.75" y="1358.00" width="54.00" height="18.00" fill="#000" rx="9.0" opacity="0.030800000000000004"/>
<rect x="276.50" y="1353.50" width="52.00" height="11.00" fill="#000" rx="5.5" opacity="0.2"/>
<rect x="275.50" y="1357.00" width="54.00" height="18.00" fill="#000" rx="9.0" opacity="0.044000000000000004"/>
<rect x="333.50" y="1354.50" width="52.00" height="11.00" fill="#000" rx="5.5" opacity="0.13"/>
<rect x="332.50" y="1358.00" width="54.00" height="18.00" fill="#000" rx="9.0" opacity="0.0286"/>
<rect x="397.25" y="1353.00" width="52.00" height="11.00" fill="#000" rx="5.5" opacity="0.25"/>
<rect x="396.25" y="1356.50" width="54.00" height="18.00" fill="#000" rx="9.0" opacity="0.055"/>
<rect x="467.25" y="1353.50" width="52.00" height="11.00" fill="#000" rx="5.5" opacity="0.28"/>
<rect x="466.25" y="1357.00" width="54.00" height="18.00" fill="#000" rx="9.0" opacity="0.06160000000000001"/>
<rect x="531.00" y="1353.00" width="52.00" height="11.00" fill="#000" rx="5.5" opacity="0.62"/>
<rect x="530.00" y="1356.50" width="54.00" height="18.00" fill="#000" rx="9.0" opacity="0.1364"/>
<rect x="594.50" y="1354.50" width="52.00" height="11.00" fill="#000" rx="5.5" opacity="0.15"/>
<rect x="593.50" y="1358.00" width="54.00" height="18.00" fill="#000" rx="9.0" opacity="0.033"/>
<rect x="658.25" y="1351.50" width="52.00" height="11.00" fill="#000" rx="5.5" opacity="0.3"/>
<rect x="657.25" y="1355.00" width="54.00" height="18.00" fill="#000" rx="9.0" opacity="0.066"/>
</g></g><g clip-path="url(#cb2)"><g filter="url(#b3)"><rect x="83.25" y="1409.00" width="56.00" height="8.00" fill="#000" rx="4.0" opacity="0.12"/>
<rect x="83.25" y="1429.00" width="56.00" height="5.00" fill="#000" rx="2.5" opacity="0.08399999999999999"/>
<rect x="83.25" y="1397.00" width="56.00" height="10.00" fill="#000" rx="5.0" opacity="0.024"/>
<rect x="83.25" y="1417.00" width="56.00" height="10.00" fill="#000" rx="5.0" opacity="0.036"/>
<rect x="147.00" y="1409.00" width="56.00" height="8.00" fill="#000" rx="4.0" opacity="0.34"/>
<rect x="147.00" y="1429.00" width="56.00" height="5.00" fill="#000" rx="2.5" opacity="0.238"/>
<rect x="147.00" y="1397.00" width="56.00" height="10.00" fill="#000" rx="5.0" opacity="0.068"/>
<rect x="147.00" y="1417.00" width="56.00" height="10.00" fill="#000" rx="5.0" opacity="0.10200000000000001"/>
<rect x="210.75" y="1409.00" width="56.00" height="8.00" fill="#000" rx="4.0" opacity="0.22"/>
<rect x="210.75" y="1429.00" width="56.00" height="5.00" fill="#000" rx="2.5" opacity="0.154"/>
<rect x="210.75" y="1397.00" width="56.00" height="10.00" fill="#000" rx="5.0" opacity="0.044000000000000004"/>
<rect x="210.75" y="1417.00" width="56.00" height="10.00" fill="#000" rx="5.0" opacity="0.066"/>
<rect x="274.50" y="1409.00" width="56.00" height="8.00" fill="#000" rx="4.0" opacity="0.17"/>
<rect x="274.50" y="1429.00" width="56.00" height="5.00" fill="#000" rx="2.5" opacity="0.119"/>
<rect x="274.50" y="1397.00" width="56.00" height="10.00" fill="#000" rx="5.0" opacity="0.034"/>
<rect x="274.50" y="1417.00" width="56.00" height="10.00" fill="#000" rx="5.0" opacity="0.051000000000000004"/>
<rect x="331.50" y="1409.00" width="56.00" height="8.00" fill="#000" rx="4.0" opacity="0.28"/>
<rect x="331.50" y="1429.00" width="56.00" height="5.00" fill="#000" rx="2.5" opacity="0.196"/>
<rect x="331.50" y="1397.00" width="56.00" height="10.00" fill="#000" rx="5.0" opacity="0.05600000000000001"/>
<rect x="331.50" y="1417.00" width="56.00" height="10.00" fill="#000" rx="5.0" opacity="0.084"/>
<rect x="395.25" y="1409.00" width="56.00" height="8.00" fill="#000" rx="4.0" opacity="0.38"/>
<rect x="395.25" y="1429.00" width="56.00" height="5.00" fill="#000" rx="2.5" opacity="0.26599999999999996"/>
<rect x="395.25" y="1397.00" width="56.00" height="10.00" fill="#000" rx="5.0" opacity="0.07600000000000001"/>
<rect x="395.25" y="1417.00" width="56.00" height="10.00" fill="#000" rx="5.0" opacity="0.11399999999999999"/>
<rect x="465.25" y="1409.00" width="56.00" height="8.00" fill="#000" rx="4.0" opacity="0.15"/>
<rect x="465.25" y="1429.00" width="56.00" height="5.00" fill="#000" rx="2.5" opacity="0.105"/>
<rect x="465.25" y="1397.00" width="56.00" height="10.00" fill="#000" rx="5.0" opacity="0.03"/>
<rect x="465.25" y="1417.00" width="56.00" height="10.00" fill="#000" rx="5.0" opacity="0.045"/>
<rect x="529.00" y="1409.00" width="56.00" height="8.00" fill="#000" rx="4.0" opacity="0.24"/>
<rect x="529.00" y="1429.00" width="56.00" height="5.00" fill="#000" rx="2.5" opacity="0.16799999999999998"/>
<rect x="529.00" y="1397.00" width="56.00" height="10.00" fill="#000" rx="5.0" opacity="0.048"/>
<rect x="529.00" y="1417.00" width="56.00" height="10.00" fill="#000" rx="5.0" opacity="0.072"/>
<rect x="592.50" y="1409.00" width="56.00" height="8.00" fill="#000" rx="4.0" opacity="0.1"/>
<rect x="592.50" y="1429.00" width="56.00" height="5.00" fill="#000" rx="2.5" opacity="0.06999999999999999"/>
<rect x="592.50" y="1397.00" width="56.00" height="10.00" fill="#000" rx="5.0" opacity="0.020000000000000004"/>
<rect x="592.50" y="1417.00" width="56.00" height="10.00" fill="#000" rx="5.0" opacity="0.03"/>
<rect x="656.25" y="1409.00" width="56.00" height="8.00" fill="#000" rx="4.0" opacity="0.17"/>
<rect x="656.25" y="1429.00" width="56.00" height="5.00" fill="#000" rx="2.5" opacity="0.119"/>
<rect x="656.25" y="1397.00" width="56.00" height="10.00" fill="#000" rx="5.0" opacity="0.034"/>
<rect x="656.25" y="1417.00" width="56.00" height="10.00" fill="#000" rx="5.0" opacity="0.051000000000000004"/>
</g></g><g clip-path="url(#cb3)"><g filter="url(#b15)"><path d="M87.25 1457.8Q111.25 1462.2 135.25 1457.8" stroke="#000" stroke-width="6.5" fill="none" stroke-linecap="round" opacity="0.95"/>
<path d="M151 1458.8Q175 1463.2 199 1458.8" stroke="#000" stroke-width="6.5" fill="none" stroke-linecap="round" opacity="0.95"/>
<path d="M214.75 1459.3Q238.75 1463.7 262.75 1459.3" stroke="#000" stroke-width="6.5" fill="none" stroke-linecap="round" opacity="0.95"/>
<path d="M278.5 1460.3Q302.5 1464.7 326.5 1460.3" stroke="#000" stroke-width="6.5" fill="none" stroke-linecap="round" opacity="0.95"/>
<path d="M335.5 1459.3Q359.5 1463.7 383.5 1459.3" stroke="#000" stroke-width="6.5" fill="none" stroke-linecap="round" opacity="0.95"/>
<path d="M399.25 1460.3Q423.25 1464.7 447.25 1460.3" stroke="#000" stroke-width="6.5" fill="none" stroke-linecap="round" opacity="0.95"/>
<path d="M469.25 1459.3Q493.25 1463.7 517.25 1459.3" stroke="#000" stroke-width="6.5" fill="none" stroke-linecap="round" opacity="0.95"/>
<path d="M533 1460.3Q557 1464.7 581 1460.3" stroke="#000" stroke-width="6.5" fill="none" stroke-linecap="round" opacity="0.95"/>
<path d="M596.5 1459.3Q620.5 1463.7 644.5 1459.3" stroke="#000" stroke-width="6.5" fill="none" stroke-linecap="round" opacity="0.95"/>
<path d="M660.25 1458.8Q684.25 1463.2 708.25 1458.8" stroke="#000" stroke-width="6.5" fill="none" stroke-linecap="round" opacity="0.95"/>
</g></g><text x="3.75" y="1379.25" font-size="21.3" textLength="71.00" lengthAdjust="spacingAndGlyphs">100kDa</text>
<rect x="75.75" y="1368.20" width="6.20" height="2.60" fill="#000" />
<text x="3.75" y="1429.25" font-size="21.3" textLength="71.00" lengthAdjust="spacingAndGlyphs">100kDa</text>
<rect x="75.75" y="1417.00" width="6.20" height="2.60" fill="#000" />
<text x="11.25" y="1472.00" font-size="21.3" textLength="59.50" lengthAdjust="spacingAndGlyphs">50kDa</text>
<rect x="75.75" y="1461.20" width="6.20" height="2.60" fill="#000" />
<text x="721.25" y="1356.25" font-size="17.8" textLength="133.75" lengthAdjust="spacingAndGlyphs">IB: Anti-pFGFR2</text>
<text x="721.25" y="1378.75" font-size="17.8" textLength="91.00" lengthAdjust="spacingAndGlyphs">(Y657/658)</text>
<text x="724.25" y="1436.25" font-size="17.8" textLength="123.25" lengthAdjust="spacingAndGlyphs">IB: Anti-FGFR2</text>
<text x="724.25" y="1478.00" font-size="17.8" textLength="123.25" lengthAdjust="spacingAndGlyphs">IB: Anti-Tubulin</text>
<path d="M141.25 1559.5V1872.5H734" stroke="#000" stroke-width="3.4" fill="none" />
<line x1="134.50" y1="1573.25" x2="141.25" y2="1573.25" stroke="#000" stroke-width="2.6" />
<text x="87.50" y="1580.85" font-size="21.5" textLength="43.75" lengthAdjust="spacingAndGlyphs">1.00</text>
<line x1="134.50" y1="1644.50" x2="141.25" y2="1644.50" stroke="#000" stroke-width="2.6" />
<text x="87.50" y="1652.10" font-size="21.5" textLength="43.75" lengthAdjust="spacingAndGlyphs">0.75</text>
<line x1="134.50" y1="1715.75" x2="141.25" y2="1715.75" stroke="#000" stroke-width="2.6" />
<text x="87.50" y="1723.35" font-size="21.5" textLength="43.75" lengthAdjust="spacingAndGlyphs">0.50</text>
<line x1="134.50" y1="1787.00" x2="141.25" y2="1787.00" stroke="#000" stroke-width="2.6" />
<text x="87.50" y="1794.60" font-size="21.5" textLength="43.75" lengthAdjust="spacingAndGlyphs">0.25</text>
<line x1="134.50" y1="1858.25" x2="141.25" y2="1858.25" stroke="#000" stroke-width="2.6" />
<text x="87.50" y="1865.85" font-size="21.5" textLength="43.75" lengthAdjust="spacingAndGlyphs">0.00</text>
<rect x="149.25" y="1625.75" width="52.90" height="232.50" fill="#000" />
<line x1="175.70" y1="1872.50" x2="175.70" y2="1877.50" stroke="#000" stroke-width="2.4" />
<rect x="208.00" y="1573.25" width="52.90" height="285.00" fill="#fe2a08" />
<line x1="234.45" y1="1872.50" x2="234.45" y2="1877.50" stroke="#000" stroke-width="2.4" />
<rect x="265.50" y="1787.50" width="52.90" height="70.75" fill="#000" />
<line x1="291.95" y1="1872.50" x2="291.95" y2="1877.50" stroke="#000" stroke-width="2.4" />
<rect x="324.25" y="1780.75" width="52.90" height="77.50" fill="#fe2a08" />
<line x1="350.70" y1="1872.50" x2="350.70" y2="1877.50" stroke="#000" stroke-width="2.4" />
<rect x="381.75" y="1790.75" width="52.90" height="67.50" fill="#000" />
<line x1="408.20" y1="1872.50" x2="408.20" y2="1877.50" stroke="#000" stroke-width="2.4" />
<rect x="440.00" y="1773.75" width="52.90" height="84.50" fill="#fe2a08" />
<line x1="466.45" y1="1872.50" x2="466.45" y2="1877.50" stroke="#000" stroke-width="2.4" />
<rect x="497.50" y="1747.50" width="52.90" height="110.75" fill="#000" />
<line x1="523.95" y1="1872.50" x2="523.95" y2="1877.50" stroke="#000" stroke-width="2.4" />
<rect x="556.50" y="1710.75" width="52.90" height="147.50" fill="#fe2a08" />
<line x1="582.95" y1="1872.50" x2="582.95" y2="1877.50" stroke="#000" stroke-width="2.4" />
<rect x="613.75" y="1775.75" width="52.90" height="82.50" fill="#000" />
<line x1="640.20" y1="1872.50" x2="640.20" y2="1877.50" stroke="#000" stroke-width="2.4" />
<rect x="672.75" y="1768.00" width="52.90" height="90.25" fill="#fe2a08" />
<line x1="699.20" y1="1872.50" x2="699.20" y2="1877.50" stroke="#000" stroke-width="2.4" />
<line x1="175.70" y1="1587.50" x2="175.70" y2="1626.00" stroke="#222" stroke-width="1.6" />
<line x1="292.00" y1="1781.00" x2="292.00" y2="1791.00" stroke="#222" stroke-width="1.6" />
<line x1="350.00" y1="1755.50" x2="350.00" y2="1802.00" stroke="#222" stroke-width="1.6" />
<line x1="408.50" y1="1778.50" x2="408.50" y2="1798.00" stroke="#222" stroke-width="1.6" />
<line x1="466.25" y1="1755.00" x2="466.25" y2="1785.00" stroke="#222" stroke-width="1.6" />
<line x1="524.25" y1="1717.50" x2="524.25" y2="1748.00" stroke="#222" stroke-width="1.6" />
<line x1="582.50" y1="1683.25" x2="582.50" y2="1734.00" stroke="#222" stroke-width="1.6" />
<line x1="640.75" y1="1755.00" x2="640.75" y2="1776.00" stroke="#222" stroke-width="1.6" />
<line x1="699.25" y1="1733.75" x2="699.25" y2="1798.25" stroke="#222" stroke-width="1.6" />
<line x1="693.75" y1="1798.25" x2="704.75" y2="1798.25" stroke="#222" stroke-width="1.6" />
<ellipse cx="175.70" cy="1587.50" rx="6.40" ry="5.10" fill="#bdbdbd" stroke="#555" stroke-width="1" />
<ellipse cx="175.70" cy="1635.50" rx="6.40" ry="5.10" fill="#bdbdbd" stroke="#555" stroke-width="1" />
<ellipse cx="175.70" cy="1655.50" rx="6.40" ry="5.10" fill="#bdbdbd" stroke="#555" stroke-width="1" />
<ellipse cx="233.75" cy="1573.50" rx="6.40" ry="5.10" fill="#bdbdbd" stroke="#555" stroke-width="1" />
<ellipse cx="292.00" cy="1781.25" rx="6.40" ry="5.10" fill="#bdbdbd" stroke="#555" stroke-width="1" />
<ellipse cx="292.00" cy="1790.75" rx="6.40" ry="5.10" fill="#bdbdbd" stroke="#555" stroke-width="1" />
<ellipse cx="350.00" cy="1755.75" rx="6.40" ry="5.10" fill="#bdbdbd" stroke="#555" stroke-width="1" />
<ellipse cx="350.00" cy="1784.50" rx="6.40" ry="5.10" fill="#bdbdbd" stroke="#555" stroke-width="1" />
<ellipse cx="350.00" cy="1801.75" rx="6.40" ry="5.10" fill="#bdbdbd" stroke="#555" stroke-width="1" />
<ellipse cx="408.50" cy="1797.50" rx="6.40" ry="5.10" fill="#bdbdbd" stroke="#555" stroke-width="1" />
<ellipse cx="408.50" cy="1795.00" rx="6.40" ry="5.10" fill="#bdbdbd" stroke="#555" stroke-width="1" />
<ellipse cx="408.50" cy="1778.75" rx="6.40" ry="5.10" fill="#bdbdbd" stroke="#555" stroke-width="1" />
<ellipse cx="466.25" cy="1755.00" rx="6.40" ry="5.10" fill="#bdbdbd" stroke="#555" stroke-width="1" />
<ellipse cx="466.25" cy="1785.00" rx="6.40" ry="5.10" fill="#bdbdbd" stroke="#555" stroke-width="1" />
<ellipse cx="466.25" cy="1780.50" rx="6.40" ry="5.10" fill="#bdbdbd" stroke="#555" stroke-width="1" />
<ellipse cx="524.25" cy="1717.50" rx="6.40" ry="5.10" fill="#bdbdbd" stroke="#555" stroke-width="1" />
<ellipse cx="524.25" cy="1738.00" rx="6.40" ry="5.10" fill="#bdbdbd" stroke="#555" stroke-width="1" />
<ellipse cx="524.25" cy="1785.50" rx="6.40" ry="5.10" fill="#bdbdbd" stroke="#555" stroke-width="1" />
<ellipse cx="582.50" cy="1683.25" rx="6.40" ry="5.10" fill="#bdbdbd" stroke="#555" stroke-width="1" />
<ellipse cx="582.50" cy="1714.50" rx="6.40" ry="5.10" fill="#bdbdbd" stroke="#555" stroke-width="1" />
<ellipse cx="582.50" cy="1733.75" rx="6.40" ry="5.10" fill="#bdbdbd" stroke="#555" stroke-width="1" />
<ellipse cx="640.75" cy="1755.00" rx="6.40" ry="5.10" fill="#bdbdbd" stroke="#555" stroke-width="1" />
<ellipse cx="640.75" cy="1767.50" rx="6.40" ry="5.10" fill="#bdbdbd" stroke="#555" stroke-width="1" />
<ellipse cx="640.75" cy="1802.00" rx="6.40" ry="5.10" fill="#bdbdbd" stroke="#555" stroke-width="1" />
<ellipse cx="699.25" cy="1733.75" rx="6.40" ry="5.10" fill="#bdbdbd" stroke="#555" stroke-width="1" />
<ellipse cx="699.25" cy="1787.50" rx="6.40" ry="5.10" fill="#bdbdbd" stroke="#555" stroke-width="1" />
<ellipse cx="699.25" cy="1783.00" rx="6.40" ry="5.10" fill="#bdbdbd" stroke="#555" stroke-width="1" />
<path d="M176.25 1565.75V1558.75H293V1565.25" stroke="#111" stroke-width="1.3" fill="none" />
<path d="M176.25 1553.25V1546.25H409.75V1552.75" stroke="#111" stroke-width="1.3" fill="none" />
<path d="M176.25 1540.75V1533.75H526.75V1540.25" stroke="#111" stroke-width="1.3" fill="none" />
<path d="M176.25 1528.75V1521.75H642V1528.25" stroke="#111" stroke-width="1.3" fill="none" />
<text x="287.50" y="1582.00" font-size="16.5" textLength="92.50" lengthAdjust="spacingAndGlyphs">p=0.001359</text>
<text x="404.50" y="1568.00" font-size="16.5" textLength="92.00" lengthAdjust="spacingAndGlyphs">p=0.001405</text>
<text x="522.00" y="1555.50" font-size="16.5" textLength="92.50" lengthAdjust="spacingAndGlyphs">p=0.012978</text>
<text x="637.50" y="1542.00" font-size="16.5" textLength="92.00" lengthAdjust="spacingAndGlyphs">p=0.003527</text>
<rect x="618.75" y="1577.00" width="26.75" height="26.25" fill="#000" />
<rect x="619.20" y="1622.90" width="26.00" height="25.60" fill="#ff0000" stroke="#6a1010" stroke-width="0.9" />
<text x="655.00" y="1594.50" font-size="21.5" textLength="65.00" lengthAdjust="spacingAndGlyphs" stroke="#000" stroke-width="0.35">-FGF7</text>
<text x="653.00" y="1639.50" font-size="21.5" textLength="70.00" lengthAdjust="spacingAndGlyphs" stroke="#000" stroke-width="0.35">+FGF7</text>
<text transform="translate(45.75 1801.00) rotate(-90)" font-size="30.5" textLength="155.00" lengthAdjust="spacingAndGlyphs" stroke="#000" stroke-width="0.4">Normalized</text>
<text transform="translate(81.25 1889.40) rotate(-90)" font-size="31.5" textLength="338.00" lengthAdjust="spacingAndGlyphs" stroke="#000" stroke-width="0.4">FGFR2 phosphorylation</text>
<text transform="translate(188.50 1901.00) rotate(27.5)" font-size="31" font-style="italic" stroke="#000" stroke-width="0.45">C1<tspan font-size="18.5" dy="-4">WT</tspan></text>
<text transform="translate(302.00 1900.00) rotate(27.5)" font-size="31" font-style="italic" stroke="#000" stroke-width="0.45">C1<tspan font-size="18.5" dy="-4">Δ401-414</tspan></text>
<text transform="translate(418.50 1901.00) rotate(27.5)" font-size="31" font-style="italic" stroke="#000" stroke-width="0.45">C1<tspan font-size="18.5" dy="-4">Δ414-429</tspan></text>
<text transform="translate(537.25 1901.00) rotate(27.5)" font-size="31" font-style="italic" stroke="#000" stroke-width="0.45">C1<tspan font-size="18.5" dy="-4">Δ429-449</tspan></text>
<text transform="translate(651.00 1901.00) rotate(27.5)" font-size="31" font-style="italic" stroke="#000" stroke-width="0.45">C1<tspan font-size="18.5" dy="-4">Δ449-464</tspan></text>
</g>
<g id="panel-c">
<text x="931.50" y="32.50" font-size="52" font-weight="bold" textLength="25.00" lengthAdjust="spacingAndGlyphs">c</text>
<text x="933.75" y="128.75" font-size="28.5">KD<tspan font-size="19.5" dy="-9">pY1</tspan></text>
<text x="1030.50" y="128.75" font-size="29" textLength="49.00" lengthAdjust="spacingAndGlyphs">465</text>
<text x="1483.75" y="128.75" font-size="29" textLength="47.50" lengthAdjust="spacingAndGlyphs">764</text>
<rect x="1089.25" y="113.00" width="16.00" height="11.50" fill="#b9a5d1" stroke="#000" stroke-width="2.6" />
<rect x="1268.00" y="112.70" width="53.00" height="10.60" fill="#a9a9a9" stroke="#000" stroke-width="2.4" />
<rect x="1104.50" y="95.00" width="165.00" height="45.75" fill="#8eb4e3" stroke="#000" stroke-width="2.7" rx="7" />
<rect x="1318.75" y="95.00" width="161.25" height="45.75" fill="#8eb4e3" stroke="#000" stroke-width="2.7" rx="7" />
<text x="1187.00" y="125.00" font-size="21" fill="#fff" text-anchor="middle">KD</text>
<text x="1399.40" y="125.00" font-size="21" fill="#fff" text-anchor="middle">KD</text>
<ellipse cx="1115.50" cy="94.50" rx="9.60" ry="23.00" fill="#00cf66" stroke="#000" stroke-width="1.5" />
<text transform="translate(1119.40 94.50) rotate(-90)" font-size="10.8" text-anchor="middle" fill="#001a08">467</text>
<ellipse cx="1283.25" cy="94.50" rx="9.60" ry="23.00" fill="#00cf66" stroke="#000" stroke-width="1.5" />
<text transform="translate(1287.15 94.50) rotate(-90)" font-size="10.8" text-anchor="middle" fill="#001a08">587</text>
<ellipse cx="1307.00" cy="94.50" rx="9.60" ry="23.00" fill="#00cf66" stroke="#000" stroke-width="1.5" />
<text transform="translate(1310.90 94.50) rotate(-90)" font-size="10.8" text-anchor="middle" fill="#001a08">589</text>
<ellipse cx="1419.25" cy="92.50" rx="9.60" ry="23.00" fill="#fe0000" stroke="#000" stroke-width="1.5" />
<text transform="translate(1423.15 92.50) rotate(-90)" font-size="10.8" text-anchor="middle" fill="#1a0000">657</text>
<ellipse cx="1438.00" cy="92.50" rx="9.60" ry="23.00" fill="#00cf66" stroke="#000" stroke-width="1.5" />
<text transform="translate(1441.90 92.50) rotate(-90)" font-size="10.8" text-anchor="middle" fill="#001a08">658</text>
<ellipse cx="1470.00" cy="92.50" rx="9.60" ry="23.00" fill="#00cf66" stroke="#000" stroke-width="1.5" />
<text transform="translate(1473.90 92.50) rotate(-90)" font-size="10.8" text-anchor="middle" fill="#001a08">734</text>
<text x="933.75" y="203.75" font-size="28.5">KD<tspan font-size="19.5" dy="-9">pY2</tspan></text>
<text x="1030.50" y="203.75" font-size="29" textLength="49.00" lengthAdjust="spacingAndGlyphs">465</text>
<text x="1483.75" y="203.75" font-size="29" textLength="47.50" lengthAdjust="spacingAndGlyphs">764</text>
<rect x="1089.25" y="188.00" width="16.00" height="11.50" fill="#b9a5d1" stroke="#000" stroke-width="2.6" />
<rect x="1268.00" y="187.70" width="53.00" height="10.60" fill="#a9a9a9" stroke="#000" stroke-width="2.4" />
<rect x="1104.50" y="170.00" width="165.00" height="45.75" fill="#8eb4e3" stroke="#000" stroke-width="2.7" rx="7" />
<rect x="1318.75" y="170.00" width="161.25" height="45.75" fill="#8eb4e3" stroke="#000" stroke-width="2.7" rx="7" />
<text x="1187.00" y="200.00" font-size="21" fill="#fff" text-anchor="middle">KD</text>
<text x="1399.40" y="200.00" font-size="21" fill="#fff" text-anchor="middle">KD</text>
<ellipse cx="1115.50" cy="169.50" rx="9.60" ry="23.00" fill="#00cf66" stroke="#000" stroke-width="1.5" />
<text transform="translate(1119.40 169.50) rotate(-90)" font-size="10.8" text-anchor="middle" fill="#001a08">467</text>
<ellipse cx="1283.25" cy="169.50" rx="9.60" ry="23.00" fill="#fe0000" stroke="#000" stroke-width="1.5" />
<text transform="translate(1287.15 169.50) rotate(-90)" font-size="10.8" text-anchor="middle" fill="#1a0000">587</text>
<ellipse cx="1307.00" cy="169.50" rx="9.60" ry="23.00" fill="#00cf66" stroke="#000" stroke-width="1.5" />
<text transform="translate(1310.90 169.50) rotate(-90)" font-size="10.8" text-anchor="middle" fill="#001a08">589</text>
<ellipse cx="1419.25" cy="167.50" rx="9.60" ry="23.00" fill="#fe0000" stroke="#000" stroke-width="1.5" />
<text transform="translate(1423.15 167.50) rotate(-90)" font-size="10.8" text-anchor="middle" fill="#1a0000">657</text>
<ellipse cx="1438.00" cy="167.50" rx="9.60" ry="23.00" fill="#00cf66" stroke="#000" stroke-width="1.5" />
<text transform="translate(1441.90 167.50) rotate(-90)" font-size="10.8" text-anchor="middle" fill="#001a08">658</text>
<ellipse cx="1470.00" cy="167.50" rx="9.60" ry="23.00" fill="#00cf66" stroke="#000" stroke-width="1.5" />
<text transform="translate(1473.90 167.50) rotate(-90)" font-size="10.8" text-anchor="middle" fill="#001a08">734</text>
<text x="933.75" y="278.75" font-size="28.5">KD<tspan font-size="19.5" dy="-9">pY3</tspan></text>
<text x="1030.50" y="278.75" font-size="29" textLength="49.00" lengthAdjust="spacingAndGlyphs">465</text>
<text x="1483.75" y="278.75" font-size="29" textLength="47.50" lengthAdjust="spacingAndGlyphs">764</text>
<rect x="1089.25" y="263.00" width="16.00" height="11.50" fill="#b9a5d1" stroke="#000" stroke-width="2.6" />
<rect x="1268.00" y="262.70" width="53.00" height="10.60" fill="#a9a9a9" stroke="#000" stroke-width="2.4" />
<rect x="1104.50" y="245.00" width="165.00" height="45.75" fill="#8eb4e3" stroke="#000" stroke-width="2.7" rx="7" />
<rect x="1318.75" y="245.00" width="161.25" height="45.75" fill="#8eb4e3" stroke="#000" stroke-width="2.7" rx="7" />
<text x="1187.00" y="275.00" font-size="21" fill="#fff" text-anchor="middle">KD</text>
<text x="1399.40" y="275.00" font-size="21" fill="#fff" text-anchor="middle">KD</text>
<ellipse cx="1115.50" cy="244.50" rx="9.60" ry="23.00" fill="#fe0000" stroke="#000" stroke-width="1.5" />
<text transform="translate(1119.40 244.50) rotate(-90)" font-size="10.8" text-anchor="middle" fill="#1a0000">467</text>
<ellipse cx="1283.25" cy="244.50" rx="9.60" ry="23.00" fill="#fe0000" stroke="#000" stroke-width="1.5" />
<text transform="translate(1287.15 244.50) rotate(-90)" font-size="10.8" text-anchor="middle" fill="#1a0000">587</text>
<ellipse cx="1307.00" cy="244.50" rx="9.60" ry="23.00" fill="#00cf66" stroke="#000" stroke-width="1.5" />
<text transform="translate(1310.90 244.50) rotate(-90)" font-size="10.8" text-anchor="middle" fill="#001a08">589</text>
<ellipse cx="1419.25" cy="242.50" rx="9.60" ry="23.00" fill="#fe0000" stroke="#000" stroke-width="1.5" />
<text transform="translate(1423.15 242.50) rotate(-90)" font-size="10.8" text-anchor="middle" fill="#1a0000">657</text>
<ellipse cx="1438.00" cy="242.50" rx="9.60" ry="23.00" fill="#00cf66" stroke="#000" stroke-width="1.5" />
<text transform="translate(1441.90 242.50) rotate(-90)" font-size="10.8" text-anchor="middle" fill="#001a08">658</text>
<ellipse cx="1470.00" cy="242.50" rx="9.60" ry="23.00" fill="#00cf66" stroke="#000" stroke-width="1.5" />
<text transform="translate(1473.90 242.50) rotate(-90)" font-size="10.8" text-anchor="middle" fill="#001a08">734</text>
<text x="933.75" y="353.75" font-size="28.5">KD<tspan font-size="19.5" dy="-9">pY4</tspan></text>
<text x="1030.50" y="353.75" font-size="29" textLength="49.00" lengthAdjust="spacingAndGlyphs">465</text>
<text x="1483.75" y="353.75" font-size="29" textLength="47.50" lengthAdjust="spacingAndGlyphs">764</text>
<rect x="1089.25" y="338.00" width="16.00" height="11.50" fill="#b9a5d1" stroke="#000" stroke-width="2.6" />
<rect x="1268.00" y="337.70" width="53.00" height="10.60" fill="#a9a9a9" stroke="#000" stroke-width="2.4" />
<rect x="1104.50" y="320.00" width="165.00" height="45.75" fill="#8eb4e3" stroke="#000" stroke-width="2.7" rx="7" />
<rect x="1318.75" y="320.00" width="161.25" height="45.75" fill="#8eb4e3" stroke="#000" stroke-width="2.7" rx="7" />
<text x="1187.00" y="350.00" font-size="21" fill="#fff" text-anchor="middle">KD</text>
<text x="1399.40" y="350.00" font-size="21" fill="#fff" text-anchor="middle">KD</text>
<ellipse cx="1115.50" cy="319.50" rx="9.60" ry="23.00" fill="#fe0000" stroke="#000" stroke-width="1.5" />
<text transform="translate(1119.40 319.50) rotate(-90)" font-size="10.8" text-anchor="middle" fill="#1a0000">467</text>
<ellipse cx="1283.25" cy="319.50" rx="9.60" ry="23.00" fill="#fe0000" stroke="#000" stroke-width="1.5" />
<text transform="translate(1287.15 319.50) rotate(-90)" font-size="10.8" text-anchor="middle" fill="#1a0000">587</text>
<ellipse cx="1307.00" cy="319.50" rx="9.60" ry="23.00" fill="#fe0000" stroke="#000" stroke-width="1.5" />
<text transform="translate(1310.90 319.50) rotate(-90)" font-size="10.8" text-anchor="middle" fill="#1a0000">589</text>
<ellipse cx="1419.25" cy="317.50" rx="9.60" ry="23.00" fill="#fe0000" stroke="#000" stroke-width="1.5" />
<text transform="translate(1423.15 317.50) rotate(-90)" font-size="10.8" text-anchor="middle" fill="#1a0000">657</text>
<ellipse cx="1438.00" cy="317.50" rx="9.60" ry="23.00" fill="#00cf66" stroke="#000" stroke-width="1.5" />
<text transform="translate(1441.90 317.50) rotate(-90)" font-size="10.8" text-anchor="middle" fill="#001a08">658</text>
<ellipse cx="1470.00" cy="317.50" rx="9.60" ry="23.00" fill="#00cf66" stroke="#000" stroke-width="1.5" />
<text transform="translate(1473.90 317.50) rotate(-90)" font-size="10.8" text-anchor="middle" fill="#001a08">734</text>
<text x="933.75" y="428.75" font-size="28.5">KD<tspan font-size="19.5" dy="-9">pY5</tspan></text>
<text x="1030.50" y="428.75" font-size="29" textLength="49.00" lengthAdjust="spacingAndGlyphs">465</text>
<text x="1483.75" y="428.75" font-size="29" textLength="47.50" lengthAdjust="spacingAndGlyphs">764</text>
<rect x="1089.25" y="413.00" width="16.00" height="11.50" fill="#b9a5d1" stroke="#000" stroke-width="2.6" />
<rect x="1268.00" y="412.70" width="53.00" height="10.60" fill="#a9a9a9" stroke="#000" stroke-width="2.4" />
<rect x="1104.50" y="395.00" width="165.00" height="45.75" fill="#8eb4e3" stroke="#000" stroke-width="2.7" rx="7" />
<rect x="1318.75" y="395.00" width="161.25" height="45.75" fill="#8eb4e3" stroke="#000" stroke-width="2.7" rx="7" />
<text x="1187.00" y="425.00" font-size="21" fill="#fff" text-anchor="middle">KD</text>
<text x="1399.40" y="425.00" font-size="21" fill="#fff" text-anchor="middle">KD</text>
<ellipse cx="1115.50" cy="394.50" rx="9.60" ry="23.00" fill="#fe0000" stroke="#000" stroke-width="1.5" />
<text transform="translate(1119.40 394.50) rotate(-90)" font-size="10.8" text-anchor="middle" fill="#1a0000">467</text>
<ellipse cx="1283.25" cy="394.50" rx="9.60" ry="23.00" fill="#fe0000" stroke="#000" stroke-width="1.5" />
<text transform="translate(1287.15 394.50) rotate(-90)" font-size="10.8" text-anchor="middle" fill="#1a0000">587</text>
<ellipse cx="1307.00" cy="394.50" rx="9.60" ry="23.00" fill="#fe0000" stroke="#000" stroke-width="1.5" />
<text transform="translate(1310.90 394.50) rotate(-90)" font-size="10.8" text-anchor="middle" fill="#1a0000">589</text>
<ellipse cx="1419.25" cy="392.50" rx="9.60" ry="23.00" fill="#fe0000" stroke="#000" stroke-width="1.5" />
<text transform="translate(1423.15 392.50) rotate(-90)" font-size="10.8" text-anchor="middle" fill="#1a0000">657</text>
<ellipse cx="1438.00" cy="392.50" rx="9.60" ry="23.00" fill="#fe0000" stroke="#000" stroke-width="1.5" />
<text transform="translate(1441.90 392.50) rotate(-90)" font-size="10.8" text-anchor="middle" fill="#1a0000">658</text>
<ellipse cx="1470.00" cy="392.50" rx="9.60" ry="23.00" fill="#00cf66" stroke="#000" stroke-width="1.5" />
<text transform="translate(1473.90 392.50) rotate(-90)" font-size="10.8" text-anchor="middle" fill="#001a08">734</text>
<text x="933.75" y="503.75" font-size="28.5">KD<tspan font-size="19.5" dy="-9">pY6</tspan></text>
<text x="1028.50" y="503.75" font-size="29" textLength="49.00" lengthAdjust="spacingAndGlyphs">465</text>
<text x="1481.75" y="503.75" font-size="29" textLength="47.50" lengthAdjust="spacingAndGlyphs">764</text>
<rect x="1087.25" y="488.00" width="16.00" height="11.50" fill="#b9a5d1" stroke="#000" stroke-width="2.6" />
<rect x="1266.00" y="487.70" width="53.00" height="10.60" fill="#a9a9a9" stroke="#000" stroke-width="2.4" />
<rect x="1102.50" y="470.00" width="165.00" height="45.75" fill="#8eb4e3" stroke="#000" stroke-width="2.7" rx="7" />
<rect x="1316.75" y="470.00" width="161.25" height="45.75" fill="#8eb4e3" stroke="#000" stroke-width="2.7" rx="7" />
<text x="1185.00" y="500.00" font-size="21" fill="#fff" text-anchor="middle">KD</text>
<text x="1397.40" y="500.00" font-size="21" fill="#fff" text-anchor="middle">KD</text>
<ellipse cx="1113.50" cy="469.50" rx="9.60" ry="23.00" fill="#fe0000" stroke="#000" stroke-width="1.5" />
<text transform="translate(1117.40 469.50) rotate(-90)" font-size="10.8" text-anchor="middle" fill="#1a0000">467</text>
<ellipse cx="1281.25" cy="469.50" rx="9.60" ry="23.00" fill="#fe0000" stroke="#000" stroke-width="1.5" />
<text transform="translate(1285.15 469.50) rotate(-90)" font-size="10.8" text-anchor="middle" fill="#1a0000">587</text>
<ellipse cx="1305.00" cy="469.50" rx="9.60" ry="23.00" fill="#fe0000" stroke="#000" stroke-width="1.5" />
<text transform="translate(1308.90 469.50) rotate(-90)" font-size="10.8" text-anchor="middle" fill="#1a0000">589</text>
<ellipse cx="1417.25" cy="467.50" rx="9.60" ry="23.00" fill="#fe0000" stroke="#000" stroke-width="1.5" />
<text transform="translate(1421.15 467.50) rotate(-90)" font-size="10.8" text-anchor="middle" fill="#1a0000">657</text>
<ellipse cx="1436.00" cy="467.50" rx="9.60" ry="23.00" fill="#fe0000" stroke="#000" stroke-width="1.5" />
<text transform="translate(1439.90 467.50) rotate(-90)" font-size="10.8" text-anchor="middle" fill="#1a0000">658</text>
<ellipse cx="1468.00" cy="467.50" rx="9.60" ry="23.00" fill="#fe0000" stroke="#000" stroke-width="1.5" />
<text transform="translate(1471.90 467.50) rotate(-90)" font-size="10.8" text-anchor="middle" fill="#1a0000">734</text>
<text x="933.75" y="578.25" font-size="28.5">KD<tspan font-size="19" dy="-9.5">K518I</tspan></text>
<text x="1030.50" y="578.25" font-size="29" textLength="49.00" lengthAdjust="spacingAndGlyphs">465</text>
<text x="1483.75" y="578.25" font-size="29" textLength="47.50" lengthAdjust="spacingAndGlyphs">764</text>
<rect x="1089.25" y="562.50" width="16.00" height="11.50" fill="#b9a5d1" stroke="#000" stroke-width="2.6" />
<rect x="1268.00" y="562.20" width="53.00" height="10.60" fill="#a9a9a9" stroke="#000" stroke-width="2.4" />
<rect x="1104.50" y="544.50" width="165.00" height="45.75" fill="#8eb4e3" stroke="#000" stroke-width="2.7" rx="7" />
<rect x="1318.75" y="544.50" width="161.25" height="45.75" fill="#8eb4e3" stroke="#000" stroke-width="2.7" rx="7" />
<text x="1187.00" y="574.50" font-size="21" fill="#fff" text-anchor="middle">KD</text>
<text x="1399.40" y="574.50" font-size="21" fill="#fff" text-anchor="middle">KD</text>
<ellipse cx="1115.50" cy="546.50" rx="9.60" ry="23.00" fill="#dcdcdc" stroke="#000" stroke-width="1.5" />
<text transform="translate(1119.40 546.50) rotate(-90)" font-size="10.8" text-anchor="middle" fill="#222">467</text>
<ellipse cx="1283.25" cy="546.50" rx="9.60" ry="23.00" fill="#dcdcdc" stroke="#000" stroke-width="1.5" />
<text transform="translate(1287.15 546.50) rotate(-90)" font-size="10.8" text-anchor="middle" fill="#222">587</text>
<ellipse cx="1307.00" cy="546.50" rx="9.60" ry="23.00" fill="#dcdcdc" stroke="#000" stroke-width="1.5" />
<text transform="translate(1310.90 546.50) rotate(-90)" font-size="10.8" text-anchor="middle" fill="#222">589</text>
<ellipse cx="1419.25" cy="546.50" rx="9.60" ry="23.00" fill="#dcdcdc" stroke="#000" stroke-width="1.5" />
<text transform="translate(1423.15 546.50) rotate(-90)" font-size="10.8" text-anchor="middle" fill="#222">657</text>
<ellipse cx="1438.00" cy="546.50" rx="9.60" ry="23.00" fill="#dcdcdc" stroke="#000" stroke-width="1.5" />
<text transform="translate(1441.90 546.50) rotate(-90)" font-size="10.8" text-anchor="middle" fill="#222">658</text>
<ellipse cx="1470.00" cy="546.50" rx="9.60" ry="23.00" fill="#dcdcdc" stroke="#000" stroke-width="1.5" />
<text transform="translate(1473.90 546.50) rotate(-90)" font-size="10.8" text-anchor="middle" fill="#222">734</text>
<ellipse cx="1187.00" cy="545.70" rx="9.60" ry="23.00" fill="#fff200" stroke="#000" stroke-width="1.5" />
<text transform="translate(1190.9 545.70) rotate(-90)" font-size="10.8" text-anchor="middle" fill="#333">518</text>
<ellipse cx="1564.20" cy="149.25" rx="10.00" ry="23.00" fill="#00cf66" stroke="#000" stroke-width="1.5" />
<text transform="translate(1569.50 149.25) rotate(-90)" font-size="15" text-anchor="middle" fill="#000">F</text>
<text x="1579.50" y="156.25" font-size="18.5" textLength="55.50" lengthAdjust="spacingAndGlyphs">F, Phe</text>
<ellipse cx="1564.20" cy="216.25" rx="10.00" ry="23.00" fill="#fe0000" stroke="#000" stroke-width="1.5" />
<text transform="translate(1569.50 216.25) rotate(-90)" font-size="15" text-anchor="middle" fill="#2a0000">pY</text>
<text x="1579.50" y="219.50" font-size="18.5" textLength="143.50" lengthAdjust="spacingAndGlyphs">pY, phospho-Tyr</text>
<ellipse cx="1564.20" cy="276.25" rx="10.00" ry="23.00" fill="#dcdcdc" stroke="#000" stroke-width="1.5" />
<text transform="translate(1569.50 276.25) rotate(-90)" font-size="15" text-anchor="middle" fill="#333">Y</text>
<text x="1579.50" y="282.00" font-size="18.5" textLength="48.00" lengthAdjust="spacingAndGlyphs">Y, Tyr</text>
<ellipse cx="1564.20" cy="339.50" rx="10.00" ry="23.00" fill="#fff200" stroke="#000" stroke-width="1.5" />
<text transform="translate(1568.10 339.50) rotate(-90)" font-size="10.8" text-anchor="middle" fill="#333">518</text>
<text x="1579.50" y="345.75" font-size="18.5" textLength="50.50" lengthAdjust="spacingAndGlyphs">K518I</text>
<text x="999.50" y="656.25" font-size="28" textLength="249.25" lengthAdjust="spacingAndGlyphs">Pulldown: MBP-JM</text>
<text x="1297.00" y="656.25" font-size="28" textLength="298.50" lengthAdjust="spacingAndGlyphs">Pulldown: MBP control</text>
<path d="M971.25 671.75V660.75H1279.25V671.75" stroke="#000" stroke-width="2.6" fill="none" />
<path d="M1291.75 671.75V660.75H1598.75V671.75" stroke="#000" stroke-width="2.6" fill="none" />
<text transform="translate(989.75 716.00) rotate(-44)" font-size="17.3" font-weight="bold">KD<tspan font-size="11" dy="-6">K518I</tspan></text>
<text transform="translate(1034.25 716.00) rotate(-44)" font-size="17.3" font-weight="bold">KD<tspan font-size="11" dy="-6">pY1</tspan></text>
<text transform="translate(1079.25 716.00) rotate(-44)" font-size="17.3" font-weight="bold">KD<tspan font-size="11" dy="-6">pY2</tspan></text>
<text transform="translate(1124.00 716.00) rotate(-44)" font-size="17.3" font-weight="bold">KD<tspan font-size="11" dy="-6">pY3</tspan></text>
<text transform="translate(1169.25 716.00) rotate(-44)" font-size="17.3" font-weight="bold">KD<tspan font-size="11" dy="-6">pY4</tspan></text>
<text transform="translate(1214.00 716.00) rotate(-44)" font-size="17.3" font-weight="bold">KD<tspan font-size="11" dy="-6">pY5</tspan></text>
<text transform="translate(1262.25 716.00) rotate(-44)" font-size="17.3" font-weight="bold">KD<tspan font-size="11" dy="-6">pY6</tspan></text>
<text transform="translate(1313.50 716.00) rotate(-44)" font-size="17.3" font-weight="bold">KD<tspan font-size="11" dy="-6">K518I</tspan></text>
<text transform="translate(1359.00 716.00) rotate(-44)" font-size="17.3" font-weight="bold">KD<tspan font-size="11" dy="-6">pY1</tspan></text>
<text transform="translate(1404.00 716.00) rotate(-44)" font-size="17.3" font-weight="bold">KD<tspan font-size="11" dy="-6">pY2</tspan></text>
<text transform="translate(1449.00 716.00) rotate(-44)" font-size="17.3" font-weight="bold">KD<tspan font-size="11" dy="-6">pY3</tspan></text>
<text transform="translate(1494.00 716.00) rotate(-44)" font-size="17.3" font-weight="bold">KD<tspan font-size="11" dy="-6">pY4</tspan></text>
<text transform="translate(1539.00 716.00) rotate(-44)" font-size="17.3" font-weight="bold">KD<tspan font-size="11" dy="-6">pY5</tspan></text>
<text transform="translate(1586.50 716.00) rotate(-44)" font-size="17.3" font-weight="bold">KD<tspan font-size="11" dy="-6">pY6</tspan></text>
<rect x="952.50" y="718.75" width="661.75" height="58.75" fill="#f1f1f1" />
<rect x="952.50" y="782.50" width="661.75" height="81.25" fill="#b3b3b3" />
<g clip-path="url(#cc1)"><g filter="url(#b2)"><rect x="970.75" y="743.00" width="36.00" height="4.00" fill="#000" rx="2.0" opacity="0.198"/>
<rect x="970.75" y="744.00" width="36.00" height="6.00" fill="#000" rx="3.0" opacity="0.077"/>
<rect x="970.75" y="747.00" width="36.00" height="24.00" fill="#000" rx="12.0" opacity="0.048"/>
<rect x="971.75" y="762.00" width="34.00" height="6.00" fill="#000" rx="3.0" opacity="0.024"/>
<rect x="1018.00" y="746.50" width="36.00" height="4.00" fill="#000" rx="2.0" opacity="0.63"/>
<rect x="1018.00" y="747.50" width="36.00" height="6.00" fill="#000" rx="3.0" opacity="0.24499999999999997"/>
<rect x="1018.00" y="750.50" width="36.00" height="24.00" fill="#000" rx="12.0" opacity="0.24"/>
<rect x="1019.00" y="765.50" width="34.00" height="6.00" fill="#000" rx="3.0" opacity="0.12"/>
<rect x="1063.00" y="746.00" width="36.00" height="4.00" fill="#000" rx="2.0" opacity="0.49500000000000005"/>
<rect x="1063.00" y="747.00" width="36.00" height="6.00" fill="#000" rx="3.0" opacity="0.1925"/>
<rect x="1063.00" y="750.00" width="36.00" height="24.00" fill="#000" rx="12.0" opacity="0.17600000000000002"/>
<rect x="1064.00" y="765.00" width="34.00" height="6.00" fill="#000" rx="3.0" opacity="0.08800000000000001"/>
<rect x="1108.00" y="744.00" width="36.00" height="4.00" fill="#000" rx="2.0" opacity="0.18000000000000002"/>
<rect x="1108.00" y="745.00" width="36.00" height="6.00" fill="#000" rx="3.0" opacity="0.06999999999999999"/>
<rect x="1108.00" y="748.00" width="36.00" height="24.00" fill="#000" rx="12.0" opacity="0.04000000000000001"/>
<rect x="1109.00" y="763.00" width="34.00" height="6.00" fill="#000" rx="3.0" opacity="0.020000000000000004"/>
<rect x="1153.00" y="743.00" width="36.00" height="4.00" fill="#000" rx="2.0" opacity="0.45"/>
<rect x="1153.00" y="744.00" width="36.00" height="6.00" fill="#000" rx="3.0" opacity="0.175"/>
<rect x="1153.00" y="747.00" width="36.00" height="24.00" fill="#000" rx="12.0" opacity="0.128"/>
<rect x="1154.00" y="762.00" width="34.00" height="6.00" fill="#000" rx="3.0" opacity="0.064"/>
<rect x="1199.50" y="741.50" width="36.00" height="4.00" fill="#000" rx="2.0" opacity="0.29700000000000004"/>
<rect x="1199.50" y="742.50" width="36.00" height="6.00" fill="#000" rx="3.0" opacity="0.11549999999999999"/>
<rect x="1199.50" y="745.50" width="36.00" height="24.00" fill="#000" rx="12.0" opacity="0.04000000000000001"/>
<rect x="1200.50" y="760.50" width="34.00" height="6.00" fill="#000" rx="3.0" opacity="0.020000000000000004"/>
<rect x="1247.00" y="740.50" width="36.00" height="4.00" fill="#000" rx="2.0" opacity="0.18000000000000002"/>
<rect x="1247.00" y="741.50" width="36.00" height="6.00" fill="#000" rx="3.0" opacity="0.06999999999999999"/>
<rect x="1247.00" y="744.50" width="36.00" height="24.00" fill="#000" rx="12.0" opacity="0.024"/>
<rect x="1248.00" y="759.50" width="34.00" height="6.00" fill="#000" rx="3.0" opacity="0.012"/>
<rect x="1293.00" y="738.75" width="24.00" height="2.50" fill="#000" rx="1.25" opacity="0.07"/>
<rect x="1338.00" y="738.75" width="24.00" height="2.50" fill="#000" rx="1.25" opacity="0.07"/>
<rect x="1518.00" y="731.25" width="24.00" height="2.50" fill="#000" rx="1.25" opacity="0.07"/>
<rect x="1566.00" y="731.75" width="24.00" height="2.50" fill="#000" rx="1.25" opacity="0.07"/>
<rect x="1476.00" y="732.75" width="24.00" height="2.50" fill="#000" rx="1.25" opacity="0.07"/>
</g></g><g clip-path="url(#cc2)"><g filter="url(#b4)"><rect x="940.00" y="776.00" width="690.00" height="14.00" fill="#fff" opacity="0.12"/>
<rect x="940.00" y="858.00" width="690.00" height="10.00" fill="#fff" opacity="0.15"/>
<rect x="965.75" y="802.50" width="46.00" height="22.00" fill="#000" rx="11.0" opacity="0.27"/>
<rect x="969.75" y="810.50" width="38.00" height="12.00" fill="#000" rx="6.0" opacity="0.08"/>
<rect x="970.75" y="835.00" width="36.00" height="5.00" fill="#000" rx="2.5" opacity="0.3"/>
<rect x="1013.00" y="809.00" width="46.00" height="22.00" fill="#000" rx="11.0" opacity="0.27"/>
<rect x="1017.00" y="817.00" width="38.00" height="12.00" fill="#000" rx="6.0" opacity="0.08"/>
<rect x="1018.00" y="841.50" width="36.00" height="5.00" fill="#000" rx="2.5" opacity="0.3"/>
<rect x="1058.00" y="809.50" width="46.00" height="22.00" fill="#000" rx="11.0" opacity="0.27"/>
<rect x="1062.00" y="817.50" width="38.00" height="12.00" fill="#000" rx="6.0" opacity="0.08"/>
<rect x="1063.00" y="842.00" width="36.00" height="5.00" fill="#000" rx="2.5" opacity="0.3"/>
<rect x="1103.00" y="807.50" width="46.00" height="22.00" fill="#000" rx="11.0" opacity="0.27"/>
<rect x="1107.00" y="815.50" width="38.00" height="12.00" fill="#000" rx="6.0" opacity="0.08"/>
<rect x="1108.00" y="840.00" width="36.00" height="5.00" fill="#000" rx="2.5" opacity="0.3"/>
<rect x="1148.00" y="806.50" width="46.00" height="22.00" fill="#000" rx="11.0" opacity="0.27"/>
<rect x="1152.00" y="814.50" width="38.00" height="12.00" fill="#000" rx="6.0" opacity="0.08"/>
<rect x="1153.00" y="839.00" width="36.00" height="5.00" fill="#000" rx="2.5" opacity="0.3"/>
<rect x="1194.50" y="805.00" width="46.00" height="22.00" fill="#000" rx="11.0" opacity="0.27"/>
<rect x="1198.50" y="813.00" width="38.00" height="12.00" fill="#000" rx="6.0" opacity="0.08"/>
<rect x="1199.50" y="837.50" width="36.00" height="5.00" fill="#000" rx="2.5" opacity="0.3"/>
<rect x="1242.00" y="802.50" width="46.00" height="22.00" fill="#000" rx="11.0" opacity="0.27"/>
<rect x="1246.00" y="810.50" width="38.00" height="12.00" fill="#000" rx="6.0" opacity="0.08"/>
<rect x="1247.00" y="835.00" width="36.00" height="5.00" fill="#000" rx="2.5" opacity="0.3"/>
<rect x="1291.00" y="828.50" width="48.00" height="24.00" fill="#000" rx="12.0" opacity="0.42"/>
<rect x="1294.00" y="836.00" width="42.00" height="12.00" fill="#000" rx="6.0" opacity="0.16"/>
<rect x="1336.50" y="828.50" width="48.00" height="24.00" fill="#000" rx="12.0" opacity="0.42"/>
<rect x="1339.50" y="836.00" width="42.00" height="12.00" fill="#000" rx="6.0" opacity="0.16"/>
<rect x="1381.50" y="828.50" width="48.00" height="24.00" fill="#000" rx="12.0" opacity="0.42"/>
<rect x="1384.50" y="836.00" width="42.00" height="12.00" fill="#000" rx="6.0" opacity="0.16"/>
<rect x="1426.50" y="828.50" width="48.00" height="24.00" fill="#000" rx="12.0" opacity="0.42"/>
<rect x="1429.50" y="836.00" width="42.00" height="12.00" fill="#000" rx="6.0" opacity="0.16"/>
<rect x="1471.50" y="828.50" width="48.00" height="24.00" fill="#000" rx="12.0" opacity="0.42"/>
<rect x="1474.50" y="836.00" width="42.00" height="12.00" fill="#000" rx="6.0" opacity="0.16"/>
<rect x="1516.50" y="828.50" width="48.00" height="24.00" fill="#000" rx="12.0" opacity="0.42"/>
<rect x="1519.50" y="836.00" width="42.00" height="12.00" fill="#000" rx="6.0" opacity="0.16"/>
<rect x="1564.00" y="828.50" width="48.00" height="24.00" fill="#000" rx="12.0" opacity="0.42"/>
<rect x="1567.00" y="836.00" width="42.00" height="12.00" fill="#000" rx="6.0" opacity="0.16"/>
<rect x="1290.00" y="831.50" width="330.00" height="18.00" fill="#000" rx="9.0" opacity="0.16"/>
</g></g><text x="895.50" y="738.25" font-size="14" textLength="41.50" lengthAdjust="spacingAndGlyphs">37kDa</text>
<rect x="940.75" y="731.75" width="10.50" height="3.00" fill="#000" />
<text x="895.50" y="775.00" font-size="14" textLength="41.50" lengthAdjust="spacingAndGlyphs">25kDa</text>
<rect x="940.75" y="768.50" width="10.50" height="3.00" fill="#000" />
<text x="895.50" y="805.00" font-size="14" textLength="41.50" lengthAdjust="spacingAndGlyphs">50kDa</text>
<rect x="940.75" y="798.50" width="10.50" height="3.00" fill="#000" />
<text x="895.50" y="862.50" font-size="14" textLength="41.50" lengthAdjust="spacingAndGlyphs">37kDa</text>
<rect x="940.75" y="856.00" width="10.50" height="3.00" fill="#000" />
<text x="1616.25" y="751.75" font-size="19.3" textLength="27.25" lengthAdjust="spacingAndGlyphs">KD</text>
<text x="1616.25" y="775.00" font-size="15.5" textLength="103.75" lengthAdjust="spacingAndGlyphs">IB: Anti-6xHis</text>
<text x="1616.25" y="815.00" font-size="20.5" textLength="78.50" lengthAdjust="spacingAndGlyphs">MBP-JM</text>
<text x="1616.25" y="842.50" font-size="20.5" textLength="43.50" lengthAdjust="spacingAndGlyphs">MBP</text>
<text x="1616.25" y="862.00" font-size="17" textLength="131.75" lengthAdjust="spacingAndGlyphs">Ponceau staining</text>
<path d="M1015.75 973.75V1330.5H1689.5" stroke="#000" stroke-width="3.2" fill="none" />
<line x1="1004.25" y1="989.50" x2="1015.75" y2="989.50" stroke="#000" stroke-width="3" />
<text x="939.50" y="1000.40" font-size="30.5" font-weight="bold" textLength="59.00" lengthAdjust="spacingAndGlyphs">1.00</text>
<line x1="1004.25" y1="1070.75" x2="1015.75" y2="1070.75" stroke="#000" stroke-width="3" />
<text x="939.50" y="1081.65" font-size="30.5" font-weight="bold" textLength="59.00" lengthAdjust="spacingAndGlyphs">0.75</text>
<line x1="1004.25" y1="1152.00" x2="1015.75" y2="1152.00" stroke="#000" stroke-width="3" />
<text x="939.50" y="1162.90" font-size="30.5" font-weight="bold" textLength="59.00" lengthAdjust="spacingAndGlyphs">0.50</text>
<line x1="1004.25" y1="1233.25" x2="1015.75" y2="1233.25" stroke="#000" stroke-width="3" />
<text x="939.50" y="1244.15" font-size="30.5" font-weight="bold" textLength="59.00" lengthAdjust="spacingAndGlyphs">0.25</text>
<line x1="1004.25" y1="1314.50" x2="1015.75" y2="1314.50" stroke="#000" stroke-width="3" />
<text x="939.50" y="1325.40" font-size="30.5" font-weight="bold" textLength="59.00" lengthAdjust="spacingAndGlyphs">0.00</text>
<rect x="1028.75" y="1225.75" width="83.60" height="88.75" fill="#595959" />
<rect x="1123.75" y="989.50" width="83.60" height="325.00" fill="#595959" />
<rect x="1217.50" y="1137.50" width="83.60" height="177.00" fill="#595959" />
<rect x="1310.00" y="1207.50" width="83.60" height="107.00" fill="#595959" />
<rect x="1403.75" y="1198.75" width="83.60" height="115.75" fill="#595959" />
<rect x="1497.50" y="1203.25" width="83.60" height="111.25" fill="#595959" />
<rect x="1592.00" y="1244.50" width="83.60" height="70.00" fill="#595959" />
<line x1="1071.25" y1="1330.50" x2="1071.25" y2="1340.50" stroke="#000" stroke-width="3" />
<line x1="1165.00" y1="1330.50" x2="1165.00" y2="1340.50" stroke="#000" stroke-width="3" />
<line x1="1258.75" y1="1330.50" x2="1258.75" y2="1340.50" stroke="#000" stroke-width="3" />
<line x1="1352.00" y1="1330.50" x2="1352.00" y2="1340.50" stroke="#000" stroke-width="3" />
<line x1="1445.75" y1="1330.50" x2="1445.75" y2="1340.50" stroke="#000" stroke-width="3" />
<line x1="1539.50" y1="1330.50" x2="1539.50" y2="1340.50" stroke="#000" stroke-width="3" />
<line x1="1633.25" y1="1330.50" x2="1633.25" y2="1340.50" stroke="#000" stroke-width="3" />
<line x1="1071.25" y1="1207.00" x2="1071.25" y2="1243.75" stroke="#1a1a1a" stroke-width="1.6" />
<line x1="1062.25" y1="1207.00" x2="1080.25" y2="1207.00" stroke="#1a1a1a" stroke-width="1.6" />
<line x1="1062.25" y1="1243.75" x2="1080.25" y2="1243.75" stroke="#1a1a1a" stroke-width="1.6" />
<line x1="1165.00" y1="989.50" x2="1165.00" y2="989.50" stroke="#1a1a1a" stroke-width="1.6" />
<line x1="1156.00" y1="989.50" x2="1174.00" y2="989.50" stroke="#1a1a1a" stroke-width="1.6" />
<line x1="1156.00" y1="989.50" x2="1174.00" y2="989.50" stroke="#1a1a1a" stroke-width="1.6" />
<line x1="1258.75" y1="1068.00" x2="1258.75" y2="1206.25" stroke="#1a1a1a" stroke-width="1.6" />
<line x1="1249.75" y1="1068.00" x2="1267.75" y2="1068.00" stroke="#1a1a1a" stroke-width="1.6" />
<line x1="1249.75" y1="1206.25" x2="1267.75" y2="1206.25" stroke="#1a1a1a" stroke-width="1.6" />
<line x1="1352.00" y1="1192.00" x2="1352.00" y2="1221.25" stroke="#1a1a1a" stroke-width="1.6" />
<line x1="1343.00" y1="1192.00" x2="1361.00" y2="1192.00" stroke="#1a1a1a" stroke-width="1.6" />
<line x1="1343.00" y1="1221.25" x2="1361.00" y2="1221.25" stroke="#1a1a1a" stroke-width="1.6" />
<line x1="1445.75" y1="1141.25" x2="1445.75" y2="1253.75" stroke="#1a1a1a" stroke-width="1.6" />
<line x1="1436.75" y1="1141.25" x2="1454.75" y2="1141.25" stroke="#1a1a1a" stroke-width="1.6" />
<line x1="1436.75" y1="1253.75" x2="1454.75" y2="1253.75" stroke="#1a1a1a" stroke-width="1.6" />
<line x1="1539.50" y1="1136.75" x2="1539.50" y2="1271.25" stroke="#1a1a1a" stroke-width="1.6" />
<line x1="1530.50" y1="1136.75" x2="1548.50" y2="1136.75" stroke="#1a1a1a" stroke-width="1.6" />
<line x1="1530.50" y1="1271.25" x2="1548.50" y2="1271.25" stroke="#1a1a1a" stroke-width="1.6" />
<line x1="1633.25" y1="1235.00" x2="1633.25" y2="1253.75" stroke="#1a1a1a" stroke-width="1.6" />
<line x1="1624.25" y1="1235.00" x2="1642.25" y2="1235.00" stroke="#1a1a1a" stroke-width="1.6" />
<line x1="1624.25" y1="1253.75" x2="1642.25" y2="1253.75" stroke="#1a1a1a" stroke-width="1.6" />
<ellipse cx="1071.25" cy="1205.00" rx="5.60" ry="5.60" fill="#bdbdbd" stroke="#444" stroke-width="1" />
<ellipse cx="1071.25" cy="1229.50" rx="5.60" ry="5.60" fill="#bdbdbd" stroke="#444" stroke-width="1" />
<ellipse cx="1071.25" cy="1241.75" rx="5.60" ry="5.60" fill="#bdbdbd" stroke="#444" stroke-width="1" />
<ellipse cx="1165.00" cy="989.50" rx="5.60" ry="5.60" fill="#bdbdbd" stroke="#444" stroke-width="1" />
<ellipse cx="1258.75" cy="1076.25" rx="5.60" ry="5.60" fill="#bdbdbd" stroke="#444" stroke-width="1" />
<ellipse cx="1258.75" cy="1123.00" rx="5.60" ry="5.60" fill="#bdbdbd" stroke="#444" stroke-width="1" />
<ellipse cx="1258.75" cy="1212.00" rx="5.60" ry="5.60" fill="#bdbdbd" stroke="#444" stroke-width="1" />
<ellipse cx="1352.00" cy="1188.75" rx="5.60" ry="5.60" fill="#bdbdbd" stroke="#444" stroke-width="1" />
<ellipse cx="1352.00" cy="1210.00" rx="5.60" ry="5.60" fill="#bdbdbd" stroke="#444" stroke-width="1" />
<ellipse cx="1352.00" cy="1218.00" rx="5.60" ry="5.60" fill="#bdbdbd" stroke="#444" stroke-width="1" />
<ellipse cx="1445.75" cy="1141.25" rx="5.60" ry="5.60" fill="#bdbdbd" stroke="#444" stroke-width="1" />
<ellipse cx="1445.75" cy="1196.75" rx="5.60" ry="5.60" fill="#bdbdbd" stroke="#444" stroke-width="1" />
<ellipse cx="1445.75" cy="1253.75" rx="5.60" ry="5.60" fill="#bdbdbd" stroke="#444" stroke-width="1" />
<ellipse cx="1539.50" cy="1136.75" rx="5.60" ry="5.60" fill="#bdbdbd" stroke="#444" stroke-width="1" />
<ellipse cx="1539.50" cy="1203.00" rx="5.60" ry="5.60" fill="#bdbdbd" stroke="#444" stroke-width="1" />
<ellipse cx="1539.50" cy="1271.25" rx="5.60" ry="5.60" fill="#bdbdbd" stroke="#444" stroke-width="1" />
<ellipse cx="1633.25" cy="1253.00" rx="5.60" ry="5.60" fill="#bdbdbd" stroke="#444" stroke-width="1" />
<ellipse cx="1633.25" cy="1247.50" rx="5.60" ry="5.60" fill="#bdbdbd" stroke="#444" stroke-width="1" />
<ellipse cx="1633.25" cy="1233.75" rx="5.60" ry="5.60" fill="#bdbdbd" stroke="#444" stroke-width="1" />
<path d="M1064.25 970V963.25H1162.5V970" stroke="#111" stroke-width="1.3" fill="none" />
<path d="M1162.5 957.75V950.75H1261.25V957.25" stroke="#111" stroke-width="1.3" fill="none" />
<path d="M1162.5 945.75V938.75H1353V945.25" stroke="#111" stroke-width="1.3" fill="none" />
<path d="M1162.5 933.25V926.25H1442.5V932.75" stroke="#111" stroke-width="1.3" fill="none" />
<path d="M1162.5 920.75V913.75H1537V920.25" stroke="#111" stroke-width="1.3" fill="none" />
<path d="M1162.5 907V900H1629.25V906.5" stroke="#111" stroke-width="1.3" fill="none" />
<text x="1062.00" y="985.50" font-size="17" textLength="88.00" lengthAdjust="spacingAndGlyphs">p=2.43E-05</text>
<text x="1257.50" y="975.75" font-size="17" textLength="89.50" lengthAdjust="spacingAndGlyphs">P=0.020731</text>
<text x="1348.75" y="962.00" font-size="17" textLength="87.50" lengthAdjust="spacingAndGlyphs">P=1.36E-05</text>
<text x="1438.75" y="949.50" font-size="17" textLength="91.75" lengthAdjust="spacingAndGlyphs">P=0.002988</text>
<text x="1532.50" y="937.00" font-size="17" textLength="91.75" lengthAdjust="spacingAndGlyphs">P=0.005232</text>
<text x="1625.00" y="925.00" font-size="17" textLength="87.50" lengthAdjust="spacingAndGlyphs">P=1.47E-06</text>
<text transform="translate(920.50 1276.50) rotate(-90)" font-size="38.5" textLength="262.00" lengthAdjust="spacingAndGlyphs">Fraction bound</text>
<text x="1041.50" y="1367.50" font-size="28.5">KD<tspan font-size="18" dy="-9">K518I</tspan></text>
<text x="1140.25" y="1365.50" font-size="28.5">KD<tspan font-size="19" dy="-9">pY1</tspan></text>
<text x="1231.50" y="1367.50" font-size="28.5">KD<tspan font-size="19" dy="-9">pY2</tspan></text>
<text x="1324.75" y="1365.00" font-size="28.5">KD<tspan font-size="19" dy="-9">pY3</tspan></text>
<text x="1417.75" y="1366.25" font-size="28.5">KD<tspan font-size="19" dy="-9">pY4</tspan></text>
<text x="1512.75" y="1364.50" font-size="28.5">KD<tspan font-size="19" dy="-9">pY5</tspan></text>
<text x="1606.50" y="1365.00" font-size="28.5">KD<tspan font-size="19" dy="-9">pY6</tspan></text>
</g>
<g id="panel-d">
<text x="932.00" y="1454.50" font-size="54" font-weight="bold" textLength="31.00" lengthAdjust="spacingAndGlyphs">d</text>
<path d="M1015.5 1478.75V1877.3H1713" stroke="#000" stroke-width="2.2" fill="none" />
<line x1="1011.00" y1="1489.62" x2="1015.50" y2="1489.62" stroke="#000" stroke-width="2" />
<line x1="1008.00" y1="1545.00" x2="1015.50" y2="1545.00" stroke="#000" stroke-width="2" />
<line x1="1011.00" y1="1600.38" x2="1015.50" y2="1600.38" stroke="#000" stroke-width="2" />
<line x1="1008.00" y1="1655.75" x2="1015.50" y2="1655.75" stroke="#000" stroke-width="2" />
<line x1="1011.00" y1="1711.12" x2="1015.50" y2="1711.12" stroke="#000" stroke-width="2" />
<line x1="1008.00" y1="1766.50" x2="1015.50" y2="1766.50" stroke="#000" stroke-width="2" />
<line x1="1011.00" y1="1821.88" x2="1015.50" y2="1821.88" stroke="#000" stroke-width="2" />
<line x1="1008.00" y1="1877.25" x2="1015.50" y2="1877.25" stroke="#000" stroke-width="2" />
<text x="1002.80" y="1550.60" font-size="16" font-weight="bold" text-anchor="end">0</text>
<text x="1002.80" y="1661.35" font-size="16" font-weight="bold" text-anchor="end">-5</text>
<text x="1002.80" y="1772.10" font-size="16" font-weight="bold" text-anchor="end">-10</text>
<text x="1002.80" y="1882.85" font-size="16" font-weight="bold" text-anchor="end">-15</text>
<line x1="1015.60" y1="1877.30" x2="1015.60" y2="1885.50" stroke="#000" stroke-width="2" />
<line x1="1055.31" y1="1877.30" x2="1055.31" y2="1882.00" stroke="#000" stroke-width="1.8" />
<line x1="1078.53" y1="1877.30" x2="1078.53" y2="1882.00" stroke="#000" stroke-width="1.8" />
<line x1="1095.01" y1="1877.30" x2="1095.01" y2="1882.00" stroke="#000" stroke-width="1.8" />
<line x1="1107.79" y1="1877.30" x2="1107.79" y2="1882.00" stroke="#000" stroke-width="1.8" />
<line x1="1118.24" y1="1877.30" x2="1118.24" y2="1882.00" stroke="#000" stroke-width="1.8" />
<line x1="1127.07" y1="1877.30" x2="1127.07" y2="1882.00" stroke="#000" stroke-width="1.8" />
<line x1="1134.72" y1="1877.30" x2="1134.72" y2="1882.00" stroke="#000" stroke-width="1.8" />
<line x1="1141.46" y1="1877.30" x2="1141.46" y2="1882.00" stroke="#000" stroke-width="1.8" />
<line x1="1147.50" y1="1877.30" x2="1147.50" y2="1885.50" stroke="#000" stroke-width="2" />
<line x1="1187.21" y1="1877.30" x2="1187.21" y2="1882.00" stroke="#000" stroke-width="1.8" />
<line x1="1210.43" y1="1877.30" x2="1210.43" y2="1882.00" stroke="#000" stroke-width="1.8" />
<line x1="1226.91" y1="1877.30" x2="1226.91" y2="1882.00" stroke="#000" stroke-width="1.8" />
<line x1="1239.69" y1="1877.30" x2="1239.69" y2="1882.00" stroke="#000" stroke-width="1.8" />
<line x1="1250.14" y1="1877.30" x2="1250.14" y2="1882.00" stroke="#000" stroke-width="1.8" />
<line x1="1258.97" y1="1877.30" x2="1258.97" y2="1882.00" stroke="#000" stroke-width="1.8" />
<line x1="1266.62" y1="1877.30" x2="1266.62" y2="1882.00" stroke="#000" stroke-width="1.8" />
<line x1="1273.36" y1="1877.30" x2="1273.36" y2="1882.00" stroke="#000" stroke-width="1.8" />
<line x1="1279.40" y1="1877.30" x2="1279.40" y2="1885.50" stroke="#000" stroke-width="2" />
<line x1="1319.11" y1="1877.30" x2="1319.11" y2="1882.00" stroke="#000" stroke-width="1.8" />
<line x1="1342.33" y1="1877.30" x2="1342.33" y2="1882.00" stroke="#000" stroke-width="1.8" />
<line x1="1358.81" y1="1877.30" x2="1358.81" y2="1882.00" stroke="#000" stroke-width="1.8" />
<line x1="1371.59" y1="1877.30" x2="1371.59" y2="1882.00" stroke="#000" stroke-width="1.8" />
<line x1="1382.04" y1="1877.30" x2="1382.04" y2="1882.00" stroke="#000" stroke-width="1.8" />
<line x1="1390.87" y1="1877.30" x2="1390.87" y2="1882.00" stroke="#000" stroke-width="1.8" />
<line x1="1398.52" y1="1877.30" x2="1398.52" y2="1882.00" stroke="#000" stroke-width="1.8" />
<line x1="1405.26" y1="1877.30" x2="1405.26" y2="1882.00" stroke="#000" stroke-width="1.8" />
<line x1="1411.30" y1="1877.30" x2="1411.30" y2="1885.50" stroke="#000" stroke-width="2" />
<line x1="1451.01" y1="1877.30" x2="1451.01" y2="1882.00" stroke="#000" stroke-width="1.8" />
<line x1="1474.23" y1="1877.30" x2="1474.23" y2="1882.00" stroke="#000" stroke-width="1.8" />
<line x1="1490.71" y1="1877.30" x2="1490.71" y2="1882.00" stroke="#000" stroke-width="1.8" />
<line x1="1503.49" y1="1877.30" x2="1503.49" y2="1882.00" stroke="#000" stroke-width="1.8" />
<line x1="1513.94" y1="1877.30" x2="1513.94" y2="1882.00" stroke="#000" stroke-width="1.8" />
<line x1="1522.77" y1="1877.30" x2="1522.77" y2="1882.00" stroke="#000" stroke-width="1.8" />
<line x1="1530.42" y1="1877.30" x2="1530.42" y2="1882.00" stroke="#000" stroke-width="1.8" />
<line x1="1537.16" y1="1877.30" x2="1537.16" y2="1882.00" stroke="#000" stroke-width="1.8" />
<line x1="1543.20" y1="1877.30" x2="1543.20" y2="1885.50" stroke="#000" stroke-width="2" />
<line x1="1582.91" y1="1877.30" x2="1582.91" y2="1882.00" stroke="#000" stroke-width="1.8" />
<line x1="1606.13" y1="1877.30" x2="1606.13" y2="1882.00" stroke="#000" stroke-width="1.8" />
<line x1="1622.61" y1="1877.30" x2="1622.61" y2="1882.00" stroke="#000" stroke-width="1.8" />
<line x1="1635.39" y1="1877.30" x2="1635.39" y2="1882.00" stroke="#000" stroke-width="1.8" />
<line x1="1645.84" y1="1877.30" x2="1645.84" y2="1882.00" stroke="#000" stroke-width="1.8" />
<line x1="1654.67" y1="1877.30" x2="1654.67" y2="1882.00" stroke="#000" stroke-width="1.8" />
<line x1="1662.32" y1="1877.30" x2="1662.32" y2="1882.00" stroke="#000" stroke-width="1.8" />
<line x1="1669.06" y1="1877.30" x2="1669.06" y2="1882.00" stroke="#000" stroke-width="1.8" />
<line x1="1675.10" y1="1877.30" x2="1675.10" y2="1885.50" stroke="#000" stroke-width="2" />
<text x="1015.60" y="1903.75" font-size="15.5" font-weight="bold" text-anchor="middle">10</text>
<text x="1147.50" y="1903.75" font-size="15.5" font-weight="bold" text-anchor="middle">100</text>
<text x="1279.40" y="1903.75" font-size="15.5" font-weight="bold" text-anchor="middle">1000</text>
<text x="1411.30" y="1903.75" font-size="15.5" font-weight="bold" text-anchor="middle">10000</text>
<text x="1543.20" y="1903.75" font-size="15.5" font-weight="bold" text-anchor="middle">100000</text>
<text x="1675.70" y="1903.75" font-size="15.5" font-weight="bold" text-anchor="middle">1000000</text>
<text x="1258.40" y="1942.00" font-size="33" font-weight="bold" textLength="305.00" lengthAdjust="spacingAndGlyphs">Concentration (nM)</text>
<text transform="translate(959.60 1770.50) rotate(-90)" font-size="33.5" font-weight="bold" textLength="41.00" lengthAdjust="spacingAndGlyphs"><tspan font-weight="normal">Δ</tspan>F</text>
<text transform="translate(967.00 1727.50) rotate(-90)" font-size="35" font-weight="bold" textLength="140.50" lengthAdjust="spacingAndGlyphs">Norm<tspan dy="-5">[</tspan><tspan dy="5">‰</tspan><tspan dy="-5">]</tspan></text>
<rect x="1203.00" y="1602.30" width="6.80" height="7.40" fill="#000000" />
<rect x="1242.70" y="1575.05" width="6.80" height="7.40" fill="#000000" />
<rect x="1282.40" y="1593.05" width="6.80" height="7.40" fill="#000000" />
<rect x="1322.10" y="1626.30" width="6.80" height="7.40" fill="#000000" />
<rect x="1361.80" y="1600.05" width="6.80" height="7.40" fill="#000000" />
<rect x="1401.50" y="1665.55" width="6.80" height="7.40" fill="#000000" />
<rect x="1441.20" y="1698.30" width="6.80" height="7.40" fill="#000000" />
<rect x="1480.90" y="1732.05" width="6.80" height="7.40" fill="#000000" />
<rect x="1520.60" y="1773.80" width="6.80" height="7.40" fill="#000000" />
<rect x="1560.30" y="1804.30" width="6.80" height="7.40" fill="#000000" />
<rect x="1600.00" y="1820.80" width="6.80" height="7.40" fill="#000000" />
<path d="M1206.4 1597.2V1614.8M1202.4 1597.2h8M1202.4 1614.8h8M1246.1 1575.8V1581.8M1242.1 1575.8h8M1242.1 1581.8h8M1285.8 1589.8V1603.8M1281.8 1589.8h8M1281.8 1603.8h8M1325.5 1619.0V1641.0M1321.5 1619.0h8M1321.5 1641.0h8M1365.2 1597.8V1609.8M1361.2 1597.8h8M1361.2 1609.8h8M1404.9 1665.8V1672.8M1400.9 1665.8h8M1400.9 1672.8h8M1444.6 1695.0V1709.0M1440.6 1695.0h8M1440.6 1709.0h8M1484.3 1733.2V1738.2M1480.3 1733.2h8M1480.3 1738.2h8M1524.0 1771.5V1783.5M1520.0 1771.5h8M1520.0 1783.5h8M1563.7 1802.5V1813.5M1559.7 1802.5h8M1559.7 1813.5h8M1603.4 1818.5V1830.5M1599.4 1818.5h8M1599.4 1830.5h8" stroke="#000000" stroke-width="1.8" fill="none" />
<rect x="1044.20" y="1540.30" width="6.80" height="7.40" fill="#ff0000" />
<rect x="1083.90" y="1570.30" width="6.80" height="7.40" fill="#ff0000" />
<rect x="1123.60" y="1575.80" width="6.80" height="7.40" fill="#ff0000" />
<rect x="1163.30" y="1568.80" width="6.80" height="7.40" fill="#ff0000" />
<rect x="1203.00" y="1582.30" width="6.80" height="7.40" fill="#ff0000" />
<rect x="1242.70" y="1578.80" width="6.80" height="7.40" fill="#ff0000" />
<rect x="1282.40" y="1618.05" width="6.80" height="7.40" fill="#ff0000" />
<rect x="1322.10" y="1653.05" width="6.80" height="7.40" fill="#ff0000" />
<rect x="1361.80" y="1658.05" width="6.80" height="7.40" fill="#ff0000" />
<rect x="1401.50" y="1685.80" width="6.80" height="7.40" fill="#ff0000" />
<rect x="1441.20" y="1697.55" width="6.80" height="7.40" fill="#ff0000" />
<rect x="1480.90" y="1724.55" width="6.80" height="7.40" fill="#ff0000" />
<rect x="1520.60" y="1744.55" width="6.80" height="7.40" fill="#ff0000" />
<rect x="1560.30" y="1722.55" width="6.80" height="7.40" fill="#ff0000" />
<rect x="1600.00" y="1712.55" width="6.80" height="7.40" fill="#ff0000" />
<path d="M1047.6 1542.0V1546.0M1043.6 1542.0h8M1043.6 1546.0h8M1087.3 1568.0V1580.0M1083.3 1568.0h8M1083.3 1580.0h8M1127.0 1578.0V1581.0M1123.0 1578.0h8M1123.0 1581.0h8M1166.7 1570.5V1574.5M1162.7 1570.5h8M1162.7 1574.5h8M1206.4 1578.5V1593.5M1202.4 1578.5h8M1202.4 1593.5h8M1246.1 1573.5V1591.5M1242.1 1573.5h8M1242.1 1591.5h8M1285.8 1619.2V1624.2M1281.8 1619.2h8M1281.8 1624.2h8M1325.5 1645.2V1668.2M1321.5 1645.2h8M1321.5 1668.2h8M1365.2 1654.8V1668.8M1361.2 1654.8h8M1361.2 1668.8h8M1404.9 1687.0V1692.0M1400.9 1687.0h8M1400.9 1692.0h8M1444.6 1694.2V1708.2M1440.6 1694.2h8M1440.6 1708.2h8M1484.3 1725.2V1731.2M1480.3 1725.2h8M1480.3 1731.2h8M1524.0 1739.5V1757.0M1520.0 1739.5h8M1520.0 1757.0h8M1563.7 1712.2V1740.2M1559.7 1712.2h8M1559.7 1740.2h8M1603.4 1706.8V1725.8M1599.4 1706.8h8M1599.4 1725.8h8" stroke="#ff0000" stroke-width="1.8" fill="none" />
<rect x="1044.20" y="1541.30" width="6.80" height="7.40" fill="#00ff00" />
<rect x="1083.90" y="1538.80" width="6.80" height="7.40" fill="#00ff00" />
<rect x="1123.60" y="1546.30" width="6.80" height="7.40" fill="#00ff00" />
<rect x="1163.30" y="1561.30" width="6.80" height="7.40" fill="#00ff00" />
<rect x="1203.00" y="1549.30" width="6.80" height="7.40" fill="#00ff00" />
<rect x="1242.70" y="1552.30" width="6.80" height="7.40" fill="#00ff00" />
<rect x="1282.40" y="1558.80" width="6.80" height="7.40" fill="#00ff00" />
<rect x="1322.10" y="1571.30" width="6.80" height="7.40" fill="#00ff00" />
<rect x="1361.80" y="1590.05" width="6.80" height="7.40" fill="#00ff00" />
<rect x="1401.50" y="1632.55" width="6.80" height="7.40" fill="#00ff00" />
<rect x="1441.20" y="1598.80" width="6.80" height="7.40" fill="#00ff00" />
<rect x="1480.90" y="1650.05" width="6.80" height="7.40" fill="#00ff00" />
<rect x="1520.60" y="1660.80" width="6.80" height="7.40" fill="#00ff00" />
<rect x="1560.30" y="1636.80" width="6.80" height="7.40" fill="#00ff00" />
<rect x="1600.00" y="1628.80" width="6.80" height="7.40" fill="#00ff00" />
<path d="M1047.6 1543.0V1547.0M1043.6 1543.0h8M1043.6 1547.0h8M1087.3 1537.5V1547.5M1083.3 1537.5h8M1083.3 1547.5h8M1127.0 1548.0V1552.0M1123.0 1548.0h8M1123.0 1552.0h8M1166.7 1562.0V1568.0M1162.7 1562.0h8M1162.7 1568.0h8M1206.4 1549.0V1557.0M1202.4 1549.0h8M1202.4 1557.0h8M1246.1 1554.0V1558.0M1242.1 1554.0h8M1242.1 1558.0h8M1285.8 1560.5V1564.5M1281.8 1560.5h8M1281.8 1564.5h8M1325.5 1573.0V1577.0M1321.5 1573.0h8M1321.5 1577.0h8M1365.2 1590.8V1596.8M1361.2 1590.8h8M1361.2 1596.8h8M1404.9 1634.2V1638.2M1400.9 1634.2h8M1400.9 1638.2h8M1444.6 1599.5V1605.5M1440.6 1599.5h8M1440.6 1605.5h8M1484.3 1650.8V1656.8M1480.3 1650.8h8M1480.3 1656.8h8M1524.0 1661.5V1667.5M1520.0 1661.5h8M1520.0 1667.5h8M1563.7 1631.0V1650.0M1559.7 1631.0h8M1559.7 1650.0h8M1603.4 1630.5V1634.5M1599.4 1630.5h8M1599.4 1634.5h8" stroke="#00ff00" stroke-width="1.8" fill="none" />
<rect x="1123.60" y="1532.30" width="6.80" height="7.40" fill="#0000ff" />
<rect x="1163.30" y="1533.80" width="6.80" height="7.40" fill="#0000ff" />
<rect x="1203.00" y="1543.80" width="6.80" height="7.40" fill="#0000ff" />
<rect x="1242.70" y="1556.30" width="6.80" height="7.40" fill="#0000ff" />
<rect x="1282.40" y="1556.30" width="6.80" height="7.40" fill="#0000ff" />
<rect x="1322.10" y="1581.30" width="6.80" height="7.40" fill="#0000ff" />
<rect x="1361.80" y="1571.30" width="6.80" height="7.40" fill="#0000ff" />
<rect x="1401.50" y="1628.80" width="6.80" height="7.40" fill="#0000ff" />
<rect x="1441.20" y="1601.30" width="6.80" height="7.40" fill="#0000ff" />
<rect x="1480.90" y="1640.05" width="6.80" height="7.40" fill="#0000ff" />
<rect x="1520.60" y="1674.55" width="6.80" height="7.40" fill="#0000ff" />
<rect x="1560.30" y="1656.30" width="6.80" height="7.40" fill="#0000ff" />
<rect x="1600.00" y="1670.05" width="6.80" height="7.40" fill="#0000ff" />
<path d="M1127.0 1530.0V1542.0M1123.0 1530.0h8M1123.0 1542.0h8M1166.7 1534.5V1540.5M1162.7 1534.5h8M1162.7 1540.5h8M1206.4 1537.0V1558.0M1202.4 1537.0h8M1202.4 1558.0h8M1246.1 1557.0V1563.0M1242.1 1557.0h8M1242.1 1563.0h8M1285.8 1557.0V1563.0M1281.8 1557.0h8M1281.8 1563.0h8M1325.5 1576.2V1593.8M1321.5 1576.2h8M1321.5 1593.8h8M1365.2 1572.0V1578.0M1361.2 1572.0h8M1361.2 1578.0h8M1404.9 1629.5V1635.5M1400.9 1629.5h8M1400.9 1635.5h8M1444.6 1595.0V1615.0M1440.6 1595.0h8M1440.6 1615.0h8M1484.3 1640.8V1646.8M1480.3 1640.8h8M1480.3 1646.8h8M1524.0 1672.2V1684.2M1520.0 1672.2h8M1520.0 1684.2h8M1563.7 1657.0V1663.0M1559.7 1657.0h8M1559.7 1663.0h8M1603.4 1669.8V1677.8M1599.4 1669.8h8M1599.4 1677.8h8" stroke="#0000ff" stroke-width="1.8" fill="none" />
<rect x="1083.90" y="1539.80" width="6.80" height="7.40" fill="#00ffff" />
<rect x="1123.60" y="1541.30" width="6.80" height="7.40" fill="#00ffff" />
<rect x="1203.00" y="1516.30" width="6.80" height="7.40" fill="#00ffff" />
<rect x="1242.70" y="1533.30" width="6.80" height="7.40" fill="#00ffff" />
<rect x="1282.40" y="1547.05" width="6.80" height="7.40" fill="#00ffff" />
<rect x="1322.10" y="1562.30" width="6.80" height="7.40" fill="#00ffff" />
<rect x="1361.80" y="1578.80" width="6.80" height="7.40" fill="#00ffff" />
<rect x="1401.50" y="1617.55" width="6.80" height="7.40" fill="#00ffff" />
<rect x="1441.20" y="1605.55" width="6.80" height="7.40" fill="#00ffff" />
<rect x="1480.90" y="1677.55" width="6.80" height="7.40" fill="#00ffff" />
<rect x="1520.60" y="1702.55" width="6.80" height="7.40" fill="#00ffff" />
<rect x="1560.30" y="1698.80" width="6.80" height="7.40" fill="#00ffff" />
<rect x="1600.00" y="1713.30" width="6.80" height="7.40" fill="#00ffff" />
<rect x="1639.70" y="1712.30" width="6.80" height="7.40" fill="#00ffff" />
<path d="M1087.3 1535.5V1551.5M1083.3 1535.5h8M1083.3 1551.5h8M1127.0 1543.0V1547.0M1123.0 1543.0h8M1123.0 1547.0h8M1206.4 1514.0V1526.0M1202.4 1514.0h8M1202.4 1526.0h8M1246.1 1529.0V1545.0M1242.1 1529.0h8M1242.1 1545.0h8M1285.8 1545.8V1555.8M1281.8 1545.8h8M1281.8 1555.8h8M1325.5 1564.0V1568.0M1321.5 1564.0h8M1321.5 1568.0h8M1365.2 1578.5V1586.5M1361.2 1578.5h8M1361.2 1586.5h8M1404.9 1617.2V1625.2M1400.9 1617.2h8M1400.9 1625.2h8M1444.6 1602.8V1615.8M1440.6 1602.8h8M1440.6 1615.8h8M1484.3 1674.2V1688.2M1480.3 1674.2h8M1480.3 1688.2h8M1524.0 1704.2V1708.2M1520.0 1704.2h8M1520.0 1708.2h8M1563.7 1693.5V1711.5M1559.7 1693.5h8M1559.7 1711.5h8M1603.4 1711.5V1722.5M1599.4 1711.5h8M1599.4 1722.5h8" stroke="#00ffff" stroke-width="1.8" fill="none" />
<rect x="1123.60" y="1543.80" width="6.80" height="7.40" fill="#ff00ff" />
<rect x="1163.30" y="1552.30" width="6.80" height="7.40" fill="#ff00ff" />
<rect x="1203.00" y="1548.30" width="6.80" height="7.40" fill="#ff00ff" />
<rect x="1242.70" y="1546.30" width="6.80" height="7.40" fill="#ff00ff" />
<rect x="1282.40" y="1567.30" width="6.80" height="7.40" fill="#ff00ff" />
<rect x="1322.10" y="1563.80" width="6.80" height="7.40" fill="#ff00ff" />
<rect x="1361.80" y="1565.05" width="6.80" height="7.40" fill="#ff00ff" />
<rect x="1401.50" y="1571.30" width="6.80" height="7.40" fill="#ff00ff" />
<rect x="1441.20" y="1586.30" width="6.80" height="7.40" fill="#ff00ff" />
<rect x="1480.90" y="1587.05" width="6.80" height="7.40" fill="#ff00ff" />
<rect x="1520.60" y="1613.80" width="6.80" height="7.40" fill="#ff00ff" />
<rect x="1560.30" y="1613.80" width="6.80" height="7.40" fill="#ff00ff" />
<path d="M1127.0 1542.5V1552.5M1123.0 1542.5h8M1123.0 1552.5h8M1166.7 1551.0V1561.0M1162.7 1551.0h8M1162.7 1561.0h8M1206.4 1550.0V1554.0M1202.4 1550.0h8M1202.4 1554.0h8M1246.1 1546.0V1554.0M1242.1 1546.0h8M1242.1 1554.0h8M1285.8 1568.0V1574.0M1281.8 1568.0h8M1281.8 1574.0h8M1325.5 1558.5V1576.5M1321.5 1558.5h8M1321.5 1576.5h8M1365.2 1560.0V1577.5M1361.2 1560.0h8M1361.2 1577.5h8M1404.9 1570.0V1580.0M1400.9 1570.0h8M1400.9 1580.0h8M1444.6 1587.0V1593.0M1440.6 1587.0h8M1440.6 1593.0h8M1484.3 1581.8V1599.8M1480.3 1581.8h8M1480.3 1599.8h8M1524.0 1614.5V1620.5M1520.0 1614.5h8M1520.0 1620.5h8M1563.7 1610.5V1624.5M1559.7 1610.5h8M1559.7 1624.5h8" stroke="#ff00ff" stroke-width="1.8" fill="none" />
<path d="M1015.6 1568.4L1020.6 1568.4L1025.6 1568.4L1030.6 1568.4L1035.6 1568.4L1040.6 1568.4L1045.6 1568.5L1050.6 1568.5L1055.6 1568.5L1060.6 1568.5L1065.6 1568.6L1070.6 1568.6L1075.6 1568.6L1080.6 1568.7L1085.6 1568.7L1090.6 1568.8L1095.6 1568.8L1100.6 1568.9L1105.6 1568.9L1110.6 1569.0L1115.6 1569.1L1120.6 1569.1L1125.6 1569.2L1130.6 1569.3L1135.6 1569.4L1140.6 1569.5L1145.6 1569.6L1150.6 1569.8L1155.6 1569.9L1160.6 1570.1L1165.6 1570.2L1170.6 1570.4L1175.6 1570.6L1180.6 1570.9L1185.6 1571.1L1190.6 1571.4L1195.6 1571.6L1200.6 1572.0L1205.6 1572.3L1210.6 1572.7L1215.6 1573.1L1220.6 1573.5L1225.6 1574.0L1230.6 1574.5L1235.6 1575.0L1240.6 1575.6L1245.6 1576.3L1250.6 1577.0L1255.6 1577.8L1260.6 1578.6L1265.6 1579.5L1270.6 1580.5L1275.6 1581.6L1280.6 1582.7L1285.6 1584.0L1290.6 1585.3L1295.6 1586.8L1300.6 1588.4L1305.6 1590.0L1310.6 1591.9L1315.6 1593.8L1320.6 1595.9L1325.6 1598.1L1330.6 1600.5L1335.6 1603.1L1340.6 1605.8L1345.6 1608.7L1350.6 1611.8L1355.6 1615.1L1360.6 1618.6L1365.6 1622.2L1370.6 1626.1L1375.6 1630.1L1380.6 1634.4L1385.6 1638.8L1390.6 1643.4L1395.6 1648.2L1400.6 1653.2L1405.6 1658.3L1410.6 1663.5L1415.6 1668.9L1420.6 1674.4L1425.6 1680.1L1430.6 1685.7L1435.6 1691.5L1440.6 1697.3L1445.6 1703.0L1450.6 1708.8L1455.6 1714.6L1460.6 1720.3L1465.6 1725.9L1470.6 1731.4L1475.6 1736.9L1480.6 1742.2L1485.6 1747.3L1490.6 1752.3L1495.6 1757.2L1500.6 1761.8L1505.6 1766.3L1510.6 1770.6L1515.6 1774.7L1520.6 1778.6L1525.6 1782.3L1530.6 1785.8L1535.6 1789.1L1540.6 1792.3L1545.6 1795.2L1550.6 1798.0L1555.6 1800.6L1560.6 1803.1L1565.6 1805.3L1570.6 1807.5L1575.6 1809.5L1580.6 1811.3L1585.6 1813.0L1590.6 1814.6L1595.6 1816.1L1600.6 1817.5L1605.6 1818.7L1610.6 1819.9L1615.6 1821.0L1620.6 1822.0L1625.6 1822.9L1630.6 1823.8L1635.6 1824.6L1640.6 1825.3L1645.6 1826.0L1650.6 1826.6L1655.6 1827.2L1660.6 1827.7L1665.6 1828.2L1670.6 1828.6L1675.6 1829.0L1680.6 1829.4L1685.6 1829.8L1690.6 1830.1L1695.6 1830.4" stroke="#000000" stroke-width="2.4" fill="none" stroke-linejoin="round"/>
<path d="M1015.6 1563.9L1020.6 1564.0L1025.6 1564.1L1030.6 1564.1L1035.6 1564.2L1040.6 1564.3L1045.6 1564.4L1050.6 1564.5L1055.6 1564.6L1060.6 1564.8L1065.6 1564.9L1070.6 1565.1L1075.6 1565.2L1080.6 1565.4L1085.6 1565.6L1090.6 1565.8L1095.6 1566.1L1100.6 1566.3L1105.6 1566.6L1110.6 1566.9L1115.6 1567.2L1120.6 1567.6L1125.6 1568.0L1130.6 1568.4L1135.6 1568.9L1140.6 1569.4L1145.6 1569.9L1150.6 1570.5L1155.6 1571.1L1160.6 1571.8L1165.6 1572.5L1170.6 1573.3L1175.6 1574.2L1180.6 1575.1L1185.6 1576.1L1190.6 1577.2L1195.6 1578.4L1200.6 1579.6L1205.6 1581.0L1210.6 1582.4L1215.6 1584.0L1220.6 1585.6L1225.6 1587.3L1230.6 1589.2L1235.6 1591.2L1240.6 1593.3L1245.6 1595.5L1250.6 1597.8L1255.6 1600.3L1260.6 1602.9L1265.6 1605.6L1270.6 1608.4L1275.6 1611.3L1280.6 1614.4L1285.6 1617.5L1290.6 1620.8L1295.6 1624.1L1300.6 1627.6L1305.6 1631.0L1310.6 1634.6L1315.6 1638.2L1320.6 1641.8L1325.6 1645.5L1330.6 1649.1L1335.6 1652.8L1340.6 1656.4L1345.6 1660.0L1350.6 1663.5L1355.6 1667.0L1360.6 1670.4L1365.6 1673.8L1370.6 1677.0L1375.6 1680.1L1380.6 1683.2L1385.6 1686.1L1390.6 1688.9L1395.6 1691.6L1400.6 1694.1L1405.6 1696.6L1410.6 1698.9L1415.6 1701.1L1420.6 1703.2L1425.6 1705.1L1430.6 1707.0L1435.6 1708.7L1440.6 1710.3L1445.6 1711.8L1450.6 1713.2L1455.6 1714.6L1460.6 1715.8L1465.6 1717.0L1470.6 1718.0L1475.6 1719.0L1480.6 1719.9L1485.6 1720.8L1490.6 1721.6L1495.6 1722.3L1500.6 1723.0L1505.6 1723.6L1510.6 1724.2L1515.6 1724.7L1520.6 1725.2L1525.6 1725.7L1530.6 1726.1L1535.6 1726.5L1540.6 1726.8L1545.6 1727.1L1550.6 1727.4L1555.6 1727.7L1560.6 1728.0L1565.6 1728.2L1570.6 1728.4L1575.6 1728.6L1580.6 1728.8L1585.6 1729.0L1590.6 1729.1L1595.6 1729.3L1600.6 1729.4L1605.6 1729.5L1610.6 1729.6L1615.6 1729.7L1620.6 1729.8L1625.6 1729.9L1630.6 1730.0L1635.6 1730.0L1640.6 1730.1L1645.6 1730.2L1650.6 1730.2L1655.6 1730.3L1660.6 1730.3L1665.6 1730.3L1670.6 1730.4L1675.6 1730.4L1680.6 1730.4L1685.6 1730.5L1690.6 1730.5L1695.6 1730.5" stroke="#ff0000" stroke-width="2.4" fill="none" stroke-linejoin="round"/>
<path d="M1015.6 1547.9L1020.6 1547.9L1025.6 1547.9L1030.6 1547.9L1035.6 1548.0L1040.6 1548.0L1045.6 1548.0L1050.6 1548.1L1055.6 1548.1L1060.6 1548.1L1065.6 1548.2L1070.6 1548.2L1075.6 1548.2L1080.6 1548.3L1085.6 1548.3L1090.6 1548.4L1095.6 1548.5L1100.6 1548.5L1105.6 1548.6L1110.6 1548.7L1115.6 1548.8L1120.6 1548.9L1125.6 1549.0L1130.6 1549.1L1135.6 1549.2L1140.6 1549.4L1145.6 1549.5L1150.6 1549.7L1155.6 1549.9L1160.6 1550.1L1165.6 1550.3L1170.6 1550.5L1175.6 1550.8L1180.6 1551.0L1185.6 1551.3L1190.6 1551.6L1195.6 1552.0L1200.6 1552.3L1205.6 1552.7L1210.6 1553.2L1215.6 1553.7L1220.6 1554.2L1225.6 1554.7L1230.6 1555.3L1235.6 1555.9L1240.6 1556.6L1245.6 1557.4L1250.6 1558.2L1255.6 1559.0L1260.6 1559.9L1265.6 1560.9L1270.6 1561.9L1275.6 1563.1L1280.6 1564.2L1285.6 1565.5L1290.6 1566.8L1295.6 1568.2L1300.6 1569.7L1305.6 1571.2L1310.6 1572.9L1315.6 1574.6L1320.6 1576.4L1325.6 1578.2L1330.6 1580.1L1335.6 1582.1L1340.6 1584.1L1345.6 1586.2L1350.6 1588.4L1355.6 1590.6L1360.6 1592.8L1365.6 1595.0L1370.6 1597.3L1375.6 1599.6L1380.6 1601.8L1385.6 1604.1L1390.6 1606.4L1395.6 1608.6L1400.6 1610.8L1405.6 1612.9L1410.6 1615.0L1415.6 1617.1L1420.6 1619.1L1425.6 1621.0L1430.6 1622.9L1435.6 1624.7L1440.6 1626.4L1445.6 1628.1L1450.6 1629.6L1455.6 1631.1L1460.6 1632.6L1465.6 1633.9L1470.6 1635.2L1475.6 1636.4L1480.6 1637.5L1485.6 1638.5L1490.6 1639.5L1495.6 1640.5L1500.6 1641.3L1505.6 1642.1L1510.6 1642.9L1515.6 1643.6L1520.6 1644.2L1525.6 1644.8L1530.6 1645.4L1535.6 1645.9L1540.6 1646.4L1545.6 1646.8L1550.6 1647.3L1555.6 1647.6L1560.6 1648.0L1565.6 1648.3L1570.6 1648.6L1575.6 1648.9L1580.6 1649.1L1585.6 1649.4L1590.6 1649.6L1595.6 1649.8L1600.6 1650.0L1605.6 1650.1L1610.6 1650.3L1615.6 1650.4L1620.6 1650.6L1625.6 1650.7L1630.6 1650.8L1635.6 1650.9L1640.6 1651.0L1645.6 1651.1L1650.6 1651.1L1655.6 1651.2L1660.6 1651.3L1665.6 1651.3L1670.6 1651.4L1675.6 1651.4L1680.6 1651.5L1685.6 1651.5L1690.6 1651.6L1695.6 1651.6" stroke="#00ff00" stroke-width="2.4" fill="none" stroke-linejoin="round"/>
<path d="M1015.6 1543.6L1020.6 1543.7L1025.6 1543.7L1030.6 1543.7L1035.6 1543.7L1040.6 1543.7L1045.6 1543.7L1050.6 1543.8L1055.6 1543.8L1060.6 1543.8L1065.6 1543.9L1070.6 1543.9L1075.6 1543.9L1080.6 1544.0L1085.6 1544.0L1090.6 1544.0L1095.6 1544.1L1100.6 1544.1L1105.6 1544.2L1110.6 1544.3L1115.6 1544.3L1120.6 1544.4L1125.6 1544.5L1130.6 1544.6L1135.6 1544.7L1140.6 1544.8L1145.6 1544.9L1150.6 1545.0L1155.6 1545.2L1160.6 1545.3L1165.6 1545.5L1170.6 1545.7L1175.6 1545.9L1180.6 1546.1L1185.6 1546.3L1190.6 1546.6L1195.6 1546.8L1200.6 1547.1L1205.6 1547.4L1210.6 1547.8L1215.6 1548.2L1220.6 1548.6L1225.6 1549.0L1230.6 1549.5L1235.6 1550.0L1240.6 1550.6L1245.6 1551.2L1250.6 1551.9L1255.6 1552.6L1260.6 1553.3L1265.6 1554.2L1270.6 1555.0L1275.6 1556.0L1280.6 1557.0L1285.6 1558.1L1290.6 1559.3L1295.6 1560.5L1300.6 1561.9L1305.6 1563.3L1310.6 1564.8L1315.6 1566.4L1320.6 1568.1L1325.6 1569.9L1330.6 1571.8L1335.6 1573.8L1340.6 1575.9L1345.6 1578.0L1350.6 1580.3L1355.6 1582.7L1360.6 1585.1L1365.6 1587.6L1370.6 1590.2L1375.6 1592.9L1380.6 1595.6L1385.6 1598.3L1390.6 1601.1L1395.6 1604.0L1400.6 1606.8L1405.6 1609.7L1410.6 1612.5L1415.6 1615.4L1420.6 1618.2L1425.6 1621.0L1430.6 1623.8L1435.6 1626.4L1440.6 1629.1L1445.6 1631.6L1450.6 1634.1L1455.6 1636.5L1460.6 1638.8L1465.6 1641.1L1470.6 1643.2L1475.6 1645.3L1480.6 1647.2L1485.6 1649.0L1490.6 1650.8L1495.6 1652.5L1500.6 1654.0L1505.6 1655.5L1510.6 1656.9L1515.6 1658.2L1520.6 1659.4L1525.6 1660.5L1530.6 1661.6L1535.6 1662.6L1540.6 1663.5L1545.6 1664.4L1550.6 1665.2L1555.6 1665.9L1560.6 1666.6L1565.6 1667.3L1570.6 1667.8L1575.6 1668.4L1580.6 1668.9L1585.6 1669.4L1590.6 1669.8L1595.6 1670.2L1600.6 1670.6L1605.6 1670.9L1610.6 1671.2L1615.6 1671.5L1620.6 1671.7L1625.6 1672.0L1630.6 1672.2L1635.6 1672.4L1640.6 1672.6L1645.6 1672.8L1650.6 1672.9L1655.6 1673.1L1660.6 1673.2L1665.6 1673.3L1670.6 1673.5L1675.6 1673.6L1680.6 1673.6L1685.6 1673.7L1690.6 1673.8L1695.6 1673.9" stroke="#0000ff" stroke-width="2.4" fill="none" stroke-linejoin="round"/>
<path d="M1015.6 1538.8L1020.6 1538.8L1025.6 1538.8L1030.6 1538.9L1035.6 1538.9L1040.6 1538.9L1045.6 1538.9L1050.6 1538.9L1055.6 1538.9L1060.6 1539.0L1065.6 1539.0L1070.6 1539.0L1075.6 1539.0L1080.6 1539.1L1085.6 1539.1L1090.6 1539.1L1095.6 1539.2L1100.6 1539.2L1105.6 1539.3L1110.6 1539.3L1115.6 1539.4L1120.6 1539.4L1125.6 1539.5L1130.6 1539.6L1135.6 1539.6L1140.6 1539.7L1145.6 1539.8L1150.6 1539.9L1155.6 1540.0L1160.6 1540.1L1165.6 1540.3L1170.6 1540.4L1175.6 1540.6L1180.6 1540.7L1185.6 1540.9L1190.6 1541.1L1195.6 1541.4L1200.6 1541.6L1205.6 1541.9L1210.6 1542.1L1215.6 1542.4L1220.6 1542.8L1225.6 1543.1L1230.6 1543.5L1235.6 1544.0L1240.6 1544.4L1245.6 1544.9L1250.6 1545.5L1255.6 1546.1L1260.6 1546.7L1265.6 1547.4L1270.6 1548.2L1275.6 1549.0L1280.6 1549.9L1285.6 1550.8L1290.6 1551.8L1295.6 1553.0L1300.6 1554.1L1305.6 1555.4L1310.6 1556.8L1315.6 1558.3L1320.6 1559.9L1325.6 1561.6L1330.6 1563.4L1335.6 1565.3L1340.6 1567.4L1345.6 1569.6L1350.6 1571.9L1355.6 1574.4L1360.6 1576.9L1365.6 1579.7L1370.6 1582.5L1375.6 1585.6L1380.6 1588.7L1385.6 1592.0L1390.6 1595.4L1395.6 1598.9L1400.6 1602.5L1405.6 1606.3L1410.6 1610.1L1415.6 1614.0L1420.6 1618.0L1425.6 1622.0L1430.6 1626.1L1435.6 1630.2L1440.6 1634.4L1445.6 1638.5L1450.6 1642.6L1455.6 1646.6L1460.6 1650.6L1465.6 1654.6L1470.6 1658.5L1475.6 1662.2L1480.6 1665.9L1485.6 1669.5L1490.6 1672.9L1495.6 1676.3L1500.6 1679.5L1505.6 1682.5L1510.6 1685.5L1515.6 1688.2L1520.6 1690.9L1525.6 1693.4L1530.6 1695.8L1535.6 1698.0L1540.6 1700.1L1545.6 1702.1L1550.6 1704.0L1555.6 1705.7L1560.6 1707.4L1565.6 1708.9L1570.6 1710.3L1575.6 1711.6L1580.6 1712.9L1585.6 1714.0L1590.6 1715.1L1595.6 1716.1L1600.6 1717.0L1605.6 1717.8L1610.6 1718.6L1615.6 1719.3L1620.6 1720.0L1625.6 1720.6L1630.6 1721.2L1635.6 1721.7L1640.6 1722.2L1645.6 1722.6L1650.6 1723.0L1655.6 1723.4L1660.6 1723.7L1665.6 1724.0L1670.6 1724.3L1675.6 1724.6L1680.6 1724.9L1685.6 1725.1L1690.6 1725.3L1695.6 1725.5" stroke="#00ffff" stroke-width="2.4" fill="none" stroke-linejoin="round"/>
<path d="M1015.6 1554.8L1020.6 1554.8L1025.6 1554.8L1030.6 1554.9L1035.6 1554.9L1040.6 1554.9L1045.6 1554.9L1050.6 1554.9L1055.6 1554.9L1060.6 1554.9L1065.6 1554.9L1070.6 1554.9L1075.6 1554.9L1080.6 1554.9L1085.6 1554.9L1090.6 1555.0L1095.6 1555.0L1100.6 1555.0L1105.6 1555.0L1110.6 1555.0L1115.6 1555.0L1120.6 1555.1L1125.6 1555.1L1130.6 1555.1L1135.6 1555.1L1140.6 1555.2L1145.6 1555.2L1150.6 1555.2L1155.6 1555.3L1160.6 1555.3L1165.6 1555.4L1170.6 1555.4L1175.6 1555.5L1180.6 1555.5L1185.6 1555.6L1190.6 1555.7L1195.6 1555.7L1200.6 1555.8L1205.6 1555.9L1210.6 1556.0L1215.6 1556.1L1220.6 1556.3L1225.6 1556.4L1230.6 1556.5L1235.6 1556.7L1240.6 1556.8L1245.6 1557.0L1250.6 1557.2L1255.6 1557.4L1260.6 1557.7L1265.6 1557.9L1270.6 1558.2L1275.6 1558.5L1280.6 1558.8L1285.6 1559.1L1290.6 1559.5L1295.6 1559.9L1300.6 1560.3L1305.6 1560.8L1310.6 1561.3L1315.6 1561.8L1320.6 1562.4L1325.6 1563.0L1330.6 1563.7L1335.6 1564.4L1340.6 1565.1L1345.6 1565.9L1350.6 1566.7L1355.6 1567.6L1360.6 1568.6L1365.6 1569.6L1370.6 1570.6L1375.6 1571.7L1380.6 1572.9L1385.6 1574.1L1390.6 1575.3L1395.6 1576.7L1400.6 1578.0L1405.6 1579.4L1410.6 1580.8L1415.6 1582.3L1420.6 1583.8L1425.6 1585.3L1430.6 1586.8L1435.6 1588.4L1440.6 1590.0L1445.6 1591.5L1450.6 1593.1L1455.6 1594.6L1460.6 1596.2L1465.6 1597.7L1470.6 1599.2L1475.6 1600.7L1480.6 1602.1L1485.6 1603.5L1490.6 1604.8L1495.6 1606.1L1500.6 1607.4L1505.6 1608.6L1510.6 1609.7L1515.6 1610.8L1520.6 1611.9L1525.6 1612.9L1530.6 1613.8L1535.6 1614.7L1540.6 1615.6L1545.6 1616.3L1550.6 1617.1L1555.6 1617.8L1560.6 1618.4L1565.6 1619.0L1570.6 1619.6L1575.6 1620.1L1580.6 1620.6L1585.6 1621.1L1590.6 1621.5L1595.6 1621.9L1600.6 1622.3L1605.6 1622.6L1610.6 1622.9L1615.6 1623.2L1620.6 1623.5L1625.6 1623.8L1630.6 1624.0L1635.6 1624.2L1640.6 1624.4L1645.6 1624.6L1650.6 1624.7L1655.6 1624.9L1660.6 1625.0L1665.6 1625.2L1670.6 1625.3L1675.6 1625.4L1680.6 1625.5L1685.6 1625.6L1690.6 1625.7L1695.6 1625.7" stroke="#ff00ff" stroke-width="2.4" fill="none" stroke-linejoin="round"/>
<line x1="1035.75" y1="1711.25" x2="1104.50" y2="1711.25" stroke="#000000" stroke-width="2.2" />
<text x="1112.00" y="1720.75" font-size="28" textLength="88.00" lengthAdjust="spacingAndGlyphs">Kinase</text>
<text x="1202.50" y="1707.50" font-size="17.5" textLength="45.00" lengthAdjust="spacingAndGlyphs">K518I</text>
<line x1="1035.75" y1="1738.75" x2="1104.50" y2="1738.75" stroke="#ff0000" stroke-width="2.2" />
<text x="1112.00" y="1748.00" font-size="28" textLength="88.00" lengthAdjust="spacingAndGlyphs">Kinase</text>
<text x="1202.50" y="1734.50" font-size="17.5" textLength="30.00" lengthAdjust="spacingAndGlyphs">pY1</text>
<line x1="1035.75" y1="1766.25" x2="1104.50" y2="1766.25" stroke="#00ff00" stroke-width="2.2" />
<text x="1112.00" y="1775.00" font-size="28" textLength="88.00" lengthAdjust="spacingAndGlyphs">Kinase</text>
<text x="1202.50" y="1760.00" font-size="17.5" textLength="30.00" lengthAdjust="spacingAndGlyphs">pY2</text>
<line x1="1035.75" y1="1790.50" x2="1104.50" y2="1790.50" stroke="#0000ff" stroke-width="2.2" />
<text x="1112.00" y="1799.50" font-size="28" textLength="88.00" lengthAdjust="spacingAndGlyphs">Kinase</text>
<text x="1202.50" y="1785.00" font-size="17.5" textLength="30.00" lengthAdjust="spacingAndGlyphs">pY4</text>
<line x1="1035.75" y1="1816.75" x2="1104.50" y2="1816.75" stroke="#00ffff" stroke-width="2.2" />
<text x="1112.00" y="1825.75" font-size="28" textLength="88.00" lengthAdjust="spacingAndGlyphs">Kinase</text>
<text x="1202.50" y="1810.75" font-size="17.5" textLength="30.00" lengthAdjust="spacingAndGlyphs">pY6</text>
<line x1="1035.75" y1="1841.25" x2="1104.50" y2="1841.25" stroke="#ff00ff" stroke-width="2.2" />
<text x="1112.00" y="1850.50" font-size="28" textLength="88.00" lengthAdjust="spacingAndGlyphs">Kinase</text>
<text x="1202.50" y="1836.25" font-size="17.5" textLength="27.50" lengthAdjust="spacingAndGlyphs">WT</text>
</g>
</svg>
</body></html>
